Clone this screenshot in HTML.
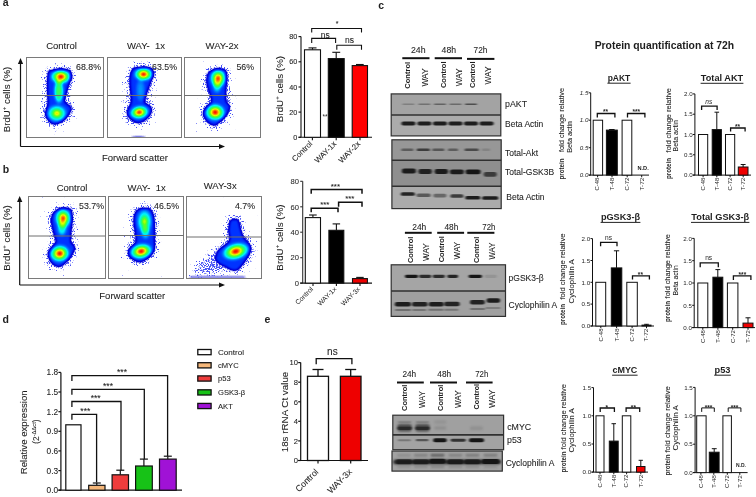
<!DOCTYPE html><html><head><meta charset="utf-8"><title>Figure</title><style>html,body{margin:0;padding:0;background:#fff;overflow:hidden}svg{display:block;filter:blur(0.35px)}text{font-family:"Liberation Sans",sans-serif;fill:#1e1e1e}</style></head><body>
<svg width="756" height="497" viewBox="0 0 756 497">
<defs>
<filter id="jet" x="-20%" y="-20%" width="140%" height="140%" color-interpolation-filters="sRGB">
<feGaussianBlur in="SourceGraphic" stdDeviation="1.0" result="b"/>
<feColorMatrix in="b" type="matrix" values="0 0 0 1 0 0 0 0 1 0 0 0 0 1 0 0 0 0 14 0" result="g"/>
<feComponentTransfer in="g"><feFuncR type="table" tableValues="0.000 0.000 0.000 0.000 0.000 0.000 0.000 0.000 0.000 0.000 0.000 0.000 0.000 0.000 0.000 0.000 0.000 0.000 0.000 0.000 0.000 0.000 0.000 0.000 0.000 0.000 0.000 0.000 0.000 0.000 0.000 0.000 0.000 0.000 0.000 0.000 0.000 0.000 0.000 0.000 0.000 0.000 0.000 0.000 0.000 0.000 0.000 0.000 0.000 0.000 0.000 0.010 0.020 0.030 0.040 0.050 0.060 0.070 0.080 0.090 0.100 0.138 0.175 0.213 0.250 0.288 0.325 0.363 0.400 0.462 0.525 0.587 0.650 0.712 0.775 0.837 0.900 0.913 0.925 0.938 0.950 0.963 0.975 0.987 1.000 1.000 1.000 1.000 1.000 1.000 1.000 1.000 1.000 0.975 0.950 0.925 0.900 0.875 0.850 0.825 0.800"/><feFuncG type="table" tableValues="0.000 0.000 0.000 0.000 0.000 0.000 0.000 0.000 0.000 0.000 0.000 0.013 0.027 0.040 0.053 0.067 0.080 0.093 0.107 0.120 0.133 0.147 0.160 0.173 0.187 0.200 0.223 0.246 0.269 0.292 0.315 0.338 0.362 0.385 0.408 0.431 0.454 0.477 0.500 0.538 0.575 0.612 0.650 0.688 0.725 0.762 0.800 0.837 0.875 0.912 0.950 0.955 0.960 0.965 0.970 0.975 0.980 0.985 0.990 0.995 1.000 1.000 1.000 1.000 1.000 1.000 1.000 1.000 1.000 1.000 1.000 1.000 1.000 1.000 1.000 1.000 1.000 0.944 0.887 0.831 0.775 0.719 0.663 0.606 0.550 0.494 0.438 0.381 0.325 0.269 0.213 0.156 0.100 0.087 0.075 0.063 0.050 0.038 0.025 0.013 0.000"/><feFuncB type="table" tableValues="0.800 0.805 0.810 0.815 0.820 0.825 0.830 0.835 0.840 0.845 0.850 0.860 0.870 0.880 0.890 0.900 0.910 0.920 0.930 0.940 0.950 0.960 0.970 0.980 0.990 1.000 1.000 1.000 1.000 1.000 1.000 1.000 1.000 1.000 1.000 1.000 1.000 1.000 1.000 1.000 1.000 1.000 1.000 1.000 1.000 1.000 1.000 1.000 1.000 1.000 1.000 0.950 0.900 0.850 0.800 0.750 0.700 0.650 0.600 0.550 0.500 0.450 0.400 0.350 0.300 0.250 0.200 0.150 0.100 0.088 0.075 0.063 0.050 0.038 0.025 0.013 0.000 0.000 0.000 0.000 0.000 0.000 0.000 0.000 0.000 0.000 0.000 0.000 0.000 0.000 0.000 0.000 0.000 0.000 0.000 0.000 0.000 0.000 0.000 0.000 0.000"/></feComponentTransfer>
</filter>
<filter id="spk" x="-30%" y="-30%" width="160%" height="160%" color-interpolation-filters="sRGB">
<feGaussianBlur in="SourceGraphic" stdDeviation="3.6" result="s"/>
<feTurbulence type="fractalNoise" baseFrequency="0.85" numOctaves="2" seed="7" result="n"/>
<feComposite in="n" in2="s" operator="arithmetic" k1="0" k2="10" k3="4.2" k4="-8.2" result="a"/>
<feColorMatrix in="a" type="matrix" values="0 0 0 0 0.1  0 0 0 0 0.15  0 0 0 0 0.95  0 0 0 0.8 0"/>
</filter>
<filter id="bb" x="-30%" y="-100%" width="160%" height="300%" color-interpolation-filters="sRGB"><feGaussianBlur stdDeviation="0.8 0.6"/></filter>
<filter id="bb2" x="-30%" y="-100%" width="160%" height="300%" color-interpolation-filters="sRGB"><feGaussianBlur stdDeviation="1.2 0.9"/></filter>
<radialGradient id="core"><stop offset="0" stop-color="#fff" stop-opacity="1"/><stop offset="0.15" stop-color="#fff" stop-opacity="0.9"/><stop offset="0.3" stop-color="#fff" stop-opacity="0.74"/><stop offset="0.5" stop-color="#fff" stop-opacity="0.55"/><stop offset="0.75" stop-color="#fff" stop-opacity="0.33"/><stop offset="0.9" stop-color="#fff" stop-opacity="0.13"/><stop offset="1" stop-color="#fff" stop-opacity="0"/></radialGradient><radialGradient id="trail"><stop offset="0" stop-color="#fff" stop-opacity="1"/><stop offset="0.5" stop-color="#fff" stop-opacity="0.85"/><stop offset="0.8" stop-color="#fff" stop-opacity="0.45"/><stop offset="1" stop-color="#fff" stop-opacity="0"/></radialGradient>
</defs>
<rect width="756" height="497" fill="#fff"/>
<text x="2.8" y="5.8" font-size="10.5" font-weight="bold">a</text>
<text x="2.8" y="172.9" font-size="10.5" font-weight="bold">b</text>
<text x="378.3" y="9.4" font-size="10.5" font-weight="bold">c</text>
<text x="2.5" y="322.9" font-size="10.5" font-weight="bold">d</text>
<text x="264.5" y="322.9" font-size="10.5" font-weight="bold">e</text>
<svg x="26.5" y="57.5" width="77.0" height="80.0" viewBox="26.5 57.5 77.0 80.0" overflow="hidden">
<g filter="url(#spk)"><path d="M50.5,71.0 C52.4,70.5 56.9,70.3 60.0,70.3 C63.1,70.3 67.3,70.5 69.0,71.0 C70.7,71.5 69.9,72.3 70.0,73.5 C70.1,74.7 70.2,75.9 69.8,78.0 C69.4,80.1 68.5,83.3 67.8,86.0 C67.1,88.7 66.0,91.6 65.4,94.2 C64.8,96.8 63.5,99.6 64.0,101.5 C64.5,103.4 67.1,104.3 68.2,105.5 C69.3,106.7 70.9,107.1 70.8,108.7 C70.7,110.3 68.9,113.0 67.4,115.0 C65.9,117.0 63.6,119.4 61.7,120.8 C59.8,122.2 57.8,123.1 56.1,123.4 C54.4,123.7 52.9,123.6 51.3,122.4 C49.7,121.2 47.4,117.9 46.6,116.0 C45.8,114.1 46.3,113.0 46.6,111.0 C46.9,109.0 48.1,106.5 48.4,104.0 C48.7,101.5 48.4,98.8 48.3,95.8 C48.2,92.8 48.0,89.0 48.0,86.0 C48.0,83.0 48.1,80.1 48.2,78.0 C48.4,75.9 48.5,74.5 48.9,73.3 C49.3,72.1 48.6,71.5 50.5,71.0 Z" fill="#fff" stroke="#fff" stroke-width="10" stroke-linejoin="round" opacity="1.0"/></g>
<g filter="url(#jet)"><path d="M50.5,71.0 C52.4,70.5 56.9,70.3 60.0,70.3 C63.1,70.3 67.3,70.5 69.0,71.0 C70.7,71.5 69.9,72.3 70.0,73.5 C70.1,74.7 70.2,75.9 69.8,78.0 C69.4,80.1 68.5,83.3 67.8,86.0 C67.1,88.7 66.0,91.6 65.4,94.2 C64.8,96.8 63.5,99.6 64.0,101.5 C64.5,103.4 67.1,104.3 68.2,105.5 C69.3,106.7 70.9,107.1 70.8,108.7 C70.7,110.3 68.9,113.0 67.4,115.0 C65.9,117.0 63.6,119.4 61.7,120.8 C59.8,122.2 57.8,123.1 56.1,123.4 C54.4,123.7 52.9,123.6 51.3,122.4 C49.7,121.2 47.4,117.9 46.6,116.0 C45.8,114.1 46.3,113.0 46.6,111.0 C46.9,109.0 48.1,106.5 48.4,104.0 C48.7,101.5 48.4,98.8 48.3,95.8 C48.2,92.8 48.0,89.0 48.0,86.0 C48.0,83.0 48.1,80.1 48.2,78.0 C48.4,75.9 48.5,74.5 48.9,73.3 C49.3,72.1 48.6,71.5 50.5,71.0 Z" fill="#fff" fill-opacity="0.25"/><ellipse cx="58.8" cy="91" rx="5.5" ry="14" fill="url(#trail)" fill-opacity="0.55"/><ellipse cx="60.9" cy="76.7" rx="11.5" ry="8.2" fill="url(#core)" fill-opacity="1.0"/><ellipse cx="56.9" cy="113.4" rx="11" ry="9.5" fill="url(#core)" fill-opacity="0.78"/></g>
</svg>
<rect x="26.5" y="57.5" width="77.0" height="80.0" fill="none" stroke="#7a7a7a" stroke-width="1"/>
<line x1="26.5" y1="95.5" x2="103.5" y2="95.5" stroke="#6e6e6e" stroke-width="1"/>
<text x="101.0" y="70.0" font-size="8.8" text-anchor="end" fill="#222" stroke="#222" stroke-width="0.08">68.8%</text>
<svg x="107.5" y="57.5" width="74.0" height="80.0" viewBox="107.5 57.5 74.0 80.0" overflow="hidden">
<g filter="url(#spk)"><path d="M134.9,68.5 C136.8,67.8 140.4,68.0 143.0,68.0 C145.6,68.0 148.6,67.8 150.2,68.5 C151.8,69.2 152.2,70.1 152.3,72.0 C152.4,73.9 151.8,77.3 151.0,80.0 C150.2,82.7 148.8,85.5 147.8,88.2 C146.9,90.9 145.9,93.8 145.3,96.2 C144.7,98.6 143.5,101.0 144.0,102.5 C144.5,104.0 147.0,104.5 148.2,105.5 C149.4,106.5 150.7,107.2 151.0,108.7 C151.3,110.2 151.0,112.4 149.8,114.3 C148.7,116.2 146.1,118.7 144.1,120.0 C142.1,121.3 140.0,122.5 137.7,122.2 C135.4,121.9 132.2,119.9 130.5,118.3 C128.8,116.7 127.9,114.3 127.6,112.7 C127.3,111.1 128.2,110.3 128.9,108.7 C129.6,107.1 131.1,105.1 131.6,103.0 C132.1,100.9 131.8,98.7 131.7,96.2 C131.6,93.7 131.1,90.9 130.9,88.2 C130.7,85.5 130.4,82.7 130.5,80.0 C130.6,77.3 131.0,73.9 131.7,72.0 C132.4,70.1 133.0,69.2 134.9,68.5 Z" fill="#fff" stroke="#fff" stroke-width="10" stroke-linejoin="round" opacity="1.0"/></g>
<g filter="url(#jet)"><path d="M134.9,68.5 C136.8,67.8 140.4,68.0 143.0,68.0 C145.6,68.0 148.6,67.8 150.2,68.5 C151.8,69.2 152.2,70.1 152.3,72.0 C152.4,73.9 151.8,77.3 151.0,80.0 C150.2,82.7 148.8,85.5 147.8,88.2 C146.9,90.9 145.9,93.8 145.3,96.2 C144.7,98.6 143.5,101.0 144.0,102.5 C144.5,104.0 147.0,104.5 148.2,105.5 C149.4,106.5 150.7,107.2 151.0,108.7 C151.3,110.2 151.0,112.4 149.8,114.3 C148.7,116.2 146.1,118.7 144.1,120.0 C142.1,121.3 140.0,122.5 137.7,122.2 C135.4,121.9 132.2,119.9 130.5,118.3 C128.8,116.7 127.9,114.3 127.6,112.7 C127.3,111.1 128.2,110.3 128.9,108.7 C129.6,107.1 131.1,105.1 131.6,103.0 C132.1,100.9 131.8,98.7 131.7,96.2 C131.6,93.7 131.1,90.9 130.9,88.2 C130.7,85.5 130.4,82.7 130.5,80.0 C130.6,77.3 131.0,73.9 131.7,72.0 C132.4,70.1 133.0,69.2 134.9,68.5 Z" fill="#fff" fill-opacity="0.25"/><ellipse cx="140.5" cy="90" rx="5" ry="13" fill="url(#trail)" fill-opacity="0.22"/><ellipse cx="143.6" cy="74.3" rx="10.5" ry="7.5" fill="url(#core)" fill-opacity="1.0"/><ellipse cx="139.3" cy="112.3" rx="10.5" ry="7.5" fill="url(#core)" fill-opacity="0.98" transform="rotate(-10 139.3 112.3)"/><ellipse cx="138.5" cy="137.6" rx="7" ry="0.9" fill="#fff" fill-opacity="0.1"/></g>
</svg>
<rect x="107.5" y="57.5" width="74.0" height="80.0" fill="none" stroke="#7a7a7a" stroke-width="1"/>
<line x1="107.5" y1="95.5" x2="181.5" y2="95.5" stroke="#6e6e6e" stroke-width="1"/>
<text x="177.0" y="70.0" font-size="8.8" text-anchor="end" fill="#222" stroke="#222" stroke-width="0.08">63.5%</text>
<svg x="184.5" y="57.5" width="76.0" height="80.0" viewBox="184.5 57.5 76.0 80.0" overflow="hidden">
<g filter="url(#spk)"><path d="M213.3,70.5 C215.1,69.8 217.1,70.0 219.0,70.0 C220.9,70.0 223.5,70.1 224.6,70.5 C225.7,70.9 225.6,70.6 225.8,72.5 C226.0,74.4 225.9,79.1 225.8,82.1 C225.7,85.0 225.5,87.7 225.4,90.2 C225.3,92.7 224.9,95.0 225.0,97.0 C225.1,99.0 225.3,100.9 225.8,102.2 C226.3,103.5 227.7,103.8 228.2,104.7 C228.7,105.7 229.4,106.2 229.0,107.9 C228.6,109.6 227.4,112.8 225.8,115.1 C224.2,117.4 221.2,120.0 219.3,121.6 C217.4,123.2 216.4,124.8 214.5,124.8 C212.6,124.8 209.8,123.2 208.1,121.6 C206.3,120.0 204.6,116.8 204.0,115.1 C203.4,113.3 203.8,112.6 204.5,111.1 C205.2,109.6 206.8,107.8 208.1,106.3 C209.3,104.8 211.5,103.8 212.0,102.0 C212.5,100.2 211.8,97.8 211.3,95.8 C210.9,93.8 210.0,92.5 209.3,90.2 C208.6,87.9 207.4,84.8 207.3,82.1 C207.2,79.4 207.5,75.9 208.5,74.0 C209.5,72.1 211.6,71.2 213.3,70.5 Z" fill="#fff" stroke="#fff" stroke-width="10" stroke-linejoin="round" opacity="1.0"/></g>
<g filter="url(#jet)"><path d="M213.3,70.5 C215.1,69.8 217.1,70.0 219.0,70.0 C220.9,70.0 223.5,70.1 224.6,70.5 C225.7,70.9 225.6,70.6 225.8,72.5 C226.0,74.4 225.9,79.1 225.8,82.1 C225.7,85.0 225.5,87.7 225.4,90.2 C225.3,92.7 224.9,95.0 225.0,97.0 C225.1,99.0 225.3,100.9 225.8,102.2 C226.3,103.5 227.7,103.8 228.2,104.7 C228.7,105.7 229.4,106.2 229.0,107.9 C228.6,109.6 227.4,112.8 225.8,115.1 C224.2,117.4 221.2,120.0 219.3,121.6 C217.4,123.2 216.4,124.8 214.5,124.8 C212.6,124.8 209.8,123.2 208.1,121.6 C206.3,120.0 204.6,116.8 204.0,115.1 C203.4,113.3 203.8,112.6 204.5,111.1 C205.2,109.6 206.8,107.8 208.1,106.3 C209.3,104.8 211.5,103.8 212.0,102.0 C212.5,100.2 211.8,97.8 211.3,95.8 C210.9,93.8 210.0,92.5 209.3,90.2 C208.6,87.9 207.4,84.8 207.3,82.1 C207.2,79.4 207.5,75.9 208.5,74.0 C209.5,72.1 211.6,71.2 213.3,70.5 Z" fill="#fff" fill-opacity="0.25"/><ellipse cx="217" cy="86" rx="5" ry="8" fill="url(#trail)" fill-opacity="0.35"/><ellipse cx="218.1" cy="78.4" rx="9" ry="10.5" fill="url(#core)" fill-opacity="0.95"/><ellipse cx="215.2" cy="112.3" rx="11" ry="9.5" fill="url(#core)" fill-opacity="1.0"/></g>
</svg>
<rect x="184.5" y="57.5" width="76.0" height="80.0" fill="none" stroke="#7a7a7a" stroke-width="1"/>
<line x1="184.5" y1="95.5" x2="260.5" y2="95.5" stroke="#6e6e6e" stroke-width="1"/>
<text x="254.0" y="70.0" font-size="8.8" text-anchor="end" fill="#222" stroke="#222" stroke-width="0.08">56%</text>
<svg x="28.5" y="196.5" width="77.0" height="82.0" viewBox="28.5 196.5 77.0 82.0" overflow="hidden">
<g filter="url(#spk)"><path d="M59.7,209.6 C61.7,208.8 63.2,209.2 65.0,209.2 C66.8,209.2 69.2,209.1 70.2,209.6 C71.2,210.1 71.0,209.9 71.2,212.0 C71.4,214.1 71.5,219.1 71.4,222.1 C71.3,225.1 70.8,227.5 70.6,230.2 C70.4,232.8 70.0,235.9 70.0,238.0 C70.0,240.1 70.1,241.8 70.6,243.0 C71.1,244.2 72.4,244.6 73.0,245.5 C73.6,246.4 74.6,247.0 74.2,248.7 C73.8,250.4 72.3,253.5 70.6,255.9 C68.9,258.3 66.1,261.5 64.1,263.2 C62.1,264.9 60.5,266.1 58.5,266.0 C56.5,265.9 53.7,264.1 52.1,262.4 C50.5,260.7 49.4,257.6 48.9,255.9 C48.4,254.2 48.6,253.4 49.3,251.9 C50.0,250.4 51.7,248.8 52.9,247.1 C54.1,245.4 56.1,243.9 56.5,242.0 C56.9,240.1 55.8,237.8 55.3,235.8 C54.8,233.8 54.2,232.5 53.7,230.2 C53.2,227.9 52.2,224.8 52.1,222.1 C52.0,219.4 52.0,216.1 53.3,214.0 C54.6,211.9 57.8,210.4 59.7,209.6 Z" fill="#fff" stroke="#fff" stroke-width="10" stroke-linejoin="round" opacity="1.0"/></g>
<g filter="url(#jet)"><path d="M59.7,209.6 C61.7,208.8 63.2,209.2 65.0,209.2 C66.8,209.2 69.2,209.1 70.2,209.6 C71.2,210.1 71.0,209.9 71.2,212.0 C71.4,214.1 71.5,219.1 71.4,222.1 C71.3,225.1 70.8,227.5 70.6,230.2 C70.4,232.8 70.0,235.9 70.0,238.0 C70.0,240.1 70.1,241.8 70.6,243.0 C71.1,244.2 72.4,244.6 73.0,245.5 C73.6,246.4 74.6,247.0 74.2,248.7 C73.8,250.4 72.3,253.5 70.6,255.9 C68.9,258.3 66.1,261.5 64.1,263.2 C62.1,264.9 60.5,266.1 58.5,266.0 C56.5,265.9 53.7,264.1 52.1,262.4 C50.5,260.7 49.4,257.6 48.9,255.9 C48.4,254.2 48.6,253.4 49.3,251.9 C50.0,250.4 51.7,248.8 52.9,247.1 C54.1,245.4 56.1,243.9 56.5,242.0 C56.9,240.1 55.8,237.8 55.3,235.8 C54.8,233.8 54.2,232.5 53.7,230.2 C53.2,227.9 52.2,224.8 52.1,222.1 C52.0,219.4 52.0,216.1 53.3,214.0 C54.6,211.9 57.8,210.4 59.7,209.6 Z" fill="#fff" fill-opacity="0.25"/><ellipse cx="62" cy="228" rx="5.5" ry="9" fill="url(#trail)" fill-opacity="0.4"/><ellipse cx="63.1" cy="218.3" rx="9" ry="11" fill="url(#core)" fill-opacity="0.95"/><ellipse cx="59.7" cy="253.5" rx="11" ry="9.5" fill="url(#core)" fill-opacity="1.0" transform="rotate(-10 59.7 253.5)"/></g>
</svg>
<rect x="28.5" y="196.5" width="77.0" height="82.0" fill="none" stroke="#7a7a7a" stroke-width="1"/>
<line x1="28.5" y1="236.0" x2="105.5" y2="236.0" stroke="#6e6e6e" stroke-width="1"/>
<text x="104.0" y="208.5" font-size="8.8" text-anchor="end" fill="#222" stroke="#222" stroke-width="0.08">53.7%</text>
<svg x="108.5" y="196.5" width="75.0" height="82.0" viewBox="108.5 196.5 75.0 82.0" overflow="hidden">
<g filter="url(#spk)"><path d="M140.1,209.2 C141.6,208.6 143.5,208.9 145.0,208.9 C146.5,208.9 147.9,208.7 149.0,209.2 C150.1,209.7 150.7,210.2 151.4,211.7 C152.1,213.2 153.0,215.7 153.4,218.1 C153.8,220.5 153.7,223.4 153.8,226.1 C153.9,228.8 153.8,231.5 153.8,234.2 C153.8,236.8 153.8,239.8 153.9,242.0 C154.0,244.2 154.5,245.5 154.2,247.3 C153.8,249.1 153.2,251.0 151.8,252.9 C150.5,254.8 148.1,257.2 146.1,258.6 C144.1,260.0 142.1,261.5 139.7,261.4 C137.3,261.3 133.5,259.2 131.7,257.8 C129.9,256.4 129.1,254.4 128.8,252.9 C128.5,251.4 129.2,250.1 130.0,248.9 C130.8,247.7 132.2,246.9 133.3,245.7 C134.4,244.5 136.0,243.6 136.5,241.7 C137.0,239.8 136.4,236.8 136.1,234.2 C135.8,231.6 135.2,228.8 134.9,226.1 C134.6,223.4 134.3,220.4 134.5,218.1 C134.7,215.8 135.2,214.0 136.1,212.5 C137.0,211.0 138.6,209.8 140.1,209.2 Z" fill="#fff" stroke="#fff" stroke-width="10" stroke-linejoin="round" opacity="1.0"/></g>
<g filter="url(#jet)"><path d="M140.1,209.2 C141.6,208.6 143.5,208.9 145.0,208.9 C146.5,208.9 147.9,208.7 149.0,209.2 C150.1,209.7 150.7,210.2 151.4,211.7 C152.1,213.2 153.0,215.7 153.4,218.1 C153.8,220.5 153.7,223.4 153.8,226.1 C153.9,228.8 153.8,231.5 153.8,234.2 C153.8,236.8 153.8,239.8 153.9,242.0 C154.0,244.2 154.5,245.5 154.2,247.3 C153.8,249.1 153.2,251.0 151.8,252.9 C150.5,254.8 148.1,257.2 146.1,258.6 C144.1,260.0 142.1,261.5 139.7,261.4 C137.3,261.3 133.5,259.2 131.7,257.8 C129.9,256.4 129.1,254.4 128.8,252.9 C128.5,251.4 129.2,250.1 130.0,248.9 C130.8,247.7 132.2,246.9 133.3,245.7 C134.4,244.5 136.0,243.6 136.5,241.7 C137.0,239.8 136.4,236.8 136.1,234.2 C135.8,231.6 135.2,228.8 134.9,226.1 C134.6,223.4 134.3,220.4 134.5,218.1 C134.7,215.8 135.2,214.0 136.1,212.5 C137.0,211.0 138.6,209.8 140.1,209.2 Z" fill="#fff" fill-opacity="0.25"/><ellipse cx="145.5" cy="232" rx="5" ry="8" fill="url(#trail)" fill-opacity="0.35"/><ellipse cx="144.5" cy="221.5" rx="8.5" ry="13.5" fill="url(#core)" fill-opacity="0.7"/><ellipse cx="141.2" cy="251.3" rx="12.5" ry="8.5" fill="url(#core)" fill-opacity="1.0" transform="rotate(-12 141.2 251.3)"/></g>
</svg>
<rect x="108.5" y="196.5" width="75.0" height="82.0" fill="none" stroke="#7a7a7a" stroke-width="1"/>
<line x1="108.5" y1="235.5" x2="183.5" y2="235.5" stroke="#6e6e6e" stroke-width="1"/>
<text x="179.0" y="208.5" font-size="8.8" text-anchor="end" fill="#222" stroke="#222" stroke-width="0.08">46.5%</text>
<svg x="186.5" y="196.5" width="75.0" height="82.0" viewBox="186.5 196.5 75.0 82.0" overflow="hidden">
<g filter="url(#spk)"><path d="M231.2,220.5 C232.0,219.7 233.4,220.0 234.5,220.0 C235.6,220.0 236.7,218.8 237.7,220.5 C238.7,222.2 239.5,227.7 240.3,230.3 C241.1,232.9 241.5,234.6 242.3,236.2 C243.1,237.8 243.9,238.9 244.9,240.1 C245.9,241.3 247.3,242.2 248.2,243.4 C249.1,244.6 250.0,245.6 250.1,247.3 C250.2,249.1 250.0,251.3 248.8,253.9 C247.6,256.5 244.8,260.5 242.9,263.0 C241.1,265.5 239.4,267.8 237.7,268.9 C236.0,270.0 234.2,269.9 232.5,269.6 C230.8,269.3 229.4,268.0 227.2,266.9 C225.0,265.8 221.2,264.3 219.4,263.0 C217.6,261.7 216.5,260.4 216.1,259.1 C215.7,257.8 216.2,256.7 216.8,255.2 C217.4,253.7 217.6,251.9 219.4,249.9 C221.2,247.9 226.1,245.4 227.9,243.4 C229.8,241.4 230.3,240.2 230.5,238.2 C230.7,236.2 229.3,233.8 229.2,231.6 C229.1,229.4 229.6,226.9 229.9,225.1 C230.2,223.2 230.4,221.3 231.2,220.5 Z" fill="#fff" stroke="#fff" stroke-width="10" stroke-linejoin="round" opacity="1.0"/><ellipse cx="214" cy="264" rx="30" ry="15" fill="url(#trail)" opacity="1" transform="rotate(-22 214 264)"/><ellipse cx="236" cy="222" rx="10" ry="9" fill="url(#trail)" opacity="0.5"/></g>
<g filter="url(#jet)"><path d="M231.2,220.5 C232.0,219.7 233.4,220.0 234.5,220.0 C235.6,220.0 236.7,218.8 237.7,220.5 C238.7,222.2 239.5,227.7 240.3,230.3 C241.1,232.9 241.5,234.6 242.3,236.2 C243.1,237.8 243.9,238.9 244.9,240.1 C245.9,241.3 247.3,242.2 248.2,243.4 C249.1,244.6 250.0,245.6 250.1,247.3 C250.2,249.1 250.0,251.3 248.8,253.9 C247.6,256.5 244.8,260.5 242.9,263.0 C241.1,265.5 239.4,267.8 237.7,268.9 C236.0,270.0 234.2,269.9 232.5,269.6 C230.8,269.3 229.4,268.0 227.2,266.9 C225.0,265.8 221.2,264.3 219.4,263.0 C217.6,261.7 216.5,260.4 216.1,259.1 C215.7,257.8 216.2,256.7 216.8,255.2 C217.4,253.7 217.6,251.9 219.4,249.9 C221.2,247.9 226.1,245.4 227.9,243.4 C229.8,241.4 230.3,240.2 230.5,238.2 C230.7,236.2 229.3,233.8 229.2,231.6 C229.1,229.4 229.6,226.9 229.9,225.1 C230.2,223.2 230.4,221.3 231.2,220.5 Z" fill="#fff" fill-opacity="0.25"/><rect x="190" y="276.9" width="55" height="0.8" fill="#fff" fill-opacity="0.13"/><ellipse cx="235.7" cy="251.4" rx="15" ry="9.2" fill="url(#core)" fill-opacity="1.0" transform="rotate(-15 235.7 251.4)"/></g>
</svg>
<rect x="186.5" y="196.5" width="75.0" height="82.0" fill="none" stroke="#7a7a7a" stroke-width="1"/>
<line x1="186.5" y1="237.0" x2="261.5" y2="237.0" stroke="#6e6e6e" stroke-width="1"/>
<text x="255.0" y="208.5" font-size="8.8" text-anchor="end" fill="#222" stroke="#222" stroke-width="0.08">4.7%</text>
<line x1="20.5" y1="63.0" x2="20.5" y2="146.5" stroke="#111" stroke-width="1.2"/>
<path d="M17.9,64 L20.5,58 L23.1,64 Z" fill="#111" stroke="none" stroke-width="1"/>
<line x1="20.5" y1="146.5" x2="220.0" y2="146.5" stroke="#111" stroke-width="1.2"/>
<path d="M219,143.9 L225,146.5 L219,149.1 Z" fill="#111" stroke="none" stroke-width="1"/>
<text x="61.5" y="48.5" font-size="9.5" text-anchor="middle" stroke="#1e1e1e" stroke-width="0.08">Control</text>
<text x="146.0" y="48.5" font-size="9.5" text-anchor="middle" stroke="#1e1e1e" stroke-width="0.08">WAY-&#160;&#160;1x</text>
<text x="222.0" y="48.5" font-size="9.5" text-anchor="middle" stroke="#1e1e1e" stroke-width="0.08">WAY-2x</text>
<text x="10.0" y="99.5" font-size="9.7" text-anchor="middle" stroke="#1e1e1e" stroke-width="0.08" transform="rotate(-90 10.0 99.5)">BrdU<tspan font-size="6.2" dy="-3.6">+</tspan><tspan dy="3.6"> cells (%)</tspan></text>
<text x="101.9" y="160.6" font-size="9.5" textLength="66" lengthAdjust="spacingAndGlyphs" stroke="#1e1e1e" stroke-width="0.08">Forward scatter</text>
<line x1="19.7" y1="201.0" x2="19.7" y2="285.0" stroke="#111" stroke-width="1.2"/>
<path d="M17.099999999999998,202 L19.7,196 L22.3,202 Z" fill="#111" stroke="none" stroke-width="1"/>
<line x1="19.7" y1="285.0" x2="220.0" y2="285.0" stroke="#111" stroke-width="1.2"/>
<path d="M219,282.4 L225,285 L219,287.6 Z" fill="#111" stroke="none" stroke-width="1"/>
<text x="72.0" y="190.5" font-size="9.5" text-anchor="middle" stroke="#1e1e1e" stroke-width="0.08">Control</text>
<text x="146.7" y="190.5" font-size="9.5" text-anchor="middle" stroke="#1e1e1e" stroke-width="0.08">WAY-&#160;&#160;1x</text>
<text x="220.2" y="188.5" font-size="9.5" text-anchor="middle" stroke="#1e1e1e" stroke-width="0.08">WAY-3x</text>
<text x="10.0" y="238.0" font-size="9.7" text-anchor="middle" stroke="#1e1e1e" stroke-width="0.08" transform="rotate(-90 10.0 238.0)">BrdU<tspan font-size="6.2" dy="-3.6">+</tspan><tspan dy="3.6"> cells (%)</tspan></text>
<text x="99.3" y="298.5" font-size="9.5" textLength="66" lengthAdjust="spacingAndGlyphs" stroke="#1e1e1e" stroke-width="0.08">Forward scatter</text>
<line x1="301.0" y1="36.6" x2="301.0" y2="137.3" stroke="#111" stroke-width="1.1"/>
<line x1="298.5" y1="137.3" x2="301.0" y2="137.3" stroke="#111" stroke-width="1.1"/>
<text x="297.2" y="139.9" font-size="7.2" text-anchor="end" stroke="#1e1e1e" stroke-width="0.08">0</text>
<line x1="298.5" y1="112.1" x2="301.0" y2="112.1" stroke="#111" stroke-width="1.1"/>
<text x="297.2" y="114.7" font-size="7.2" text-anchor="end" stroke="#1e1e1e" stroke-width="0.08">20</text>
<line x1="298.5" y1="87.0" x2="301.0" y2="87.0" stroke="#111" stroke-width="1.1"/>
<text x="297.2" y="89.5" font-size="7.2" text-anchor="end" stroke="#1e1e1e" stroke-width="0.08">40</text>
<line x1="298.5" y1="61.8" x2="301.0" y2="61.8" stroke="#111" stroke-width="1.1"/>
<text x="297.2" y="64.4" font-size="7.2" text-anchor="end" stroke="#1e1e1e" stroke-width="0.08">60</text>
<line x1="298.5" y1="36.6" x2="301.0" y2="36.6" stroke="#111" stroke-width="1.1"/>
<text x="297.2" y="39.2" font-size="7.2" text-anchor="end" stroke="#1e1e1e" stroke-width="0.08">80</text>
<line x1="298.5" y1="137.3" x2="372.0" y2="137.3" stroke="#111" stroke-width="1.1"/>
<line x1="312.4" y1="137.3" x2="312.4" y2="140.3" stroke="#111" stroke-width="1.1"/>
<line x1="336.2" y1="137.3" x2="336.2" y2="140.3" stroke="#111" stroke-width="1.1"/>
<line x1="360.0" y1="137.3" x2="360.0" y2="140.3" stroke="#111" stroke-width="1.1"/>
<line x1="312.5" y1="49.8" x2="312.5" y2="47.9" stroke="#111" stroke-width="1.1"/>
<line x1="308.5" y1="47.9" x2="316.5" y2="47.9" stroke="#111" stroke-width="1.1"/>
<rect x="304.5" y="49.8" width="16.0" height="87.5" fill="#fff" stroke="#111" stroke-width="1.1"/>
<line x1="336.2" y1="58.6" x2="336.2" y2="52.3" stroke="#111" stroke-width="1.1"/>
<line x1="332.3" y1="52.3" x2="340.2" y2="52.3" stroke="#111" stroke-width="1.1"/>
<rect x="328.3" y="58.6" width="15.9" height="78.7" fill="#000" stroke="#111" stroke-width="1.1"/>
<line x1="359.9" y1="65.6" x2="359.9" y2="64.5" stroke="#111" stroke-width="1.1"/>
<line x1="356.0" y1="64.5" x2="363.7" y2="64.5" stroke="#111" stroke-width="1.1"/>
<rect x="352.2" y="65.6" width="15.3" height="71.7" fill="#f00" stroke="#111" stroke-width="1.1"/>
<path d="M311.7,32.5 L311.7,28.5 L361.5,28.5 L361.5,32.5" fill="none" stroke="#111" stroke-width="1.1"/>
<path d="M311.7,42.9 L311.7,38.4 L335.6,38.4 L335.6,42.9" fill="none" stroke="#111" stroke-width="1.1"/>
<path d="M336.8,49.7 L336.8,45.2 L361.5,45.2 L361.5,49.7" fill="none" stroke="#111" stroke-width="1.1"/>
<text x="337.0" y="25.5" font-size="7" text-anchor="middle" stroke="#1e1e1e" stroke-width="0.08">*</text>
<text x="325.3" y="38.0" font-size="8.5" text-anchor="middle" stroke="#1e1e1e" stroke-width="0.08">ns</text>
<text x="349.5" y="43.2" font-size="8.5" text-anchor="middle" stroke="#1e1e1e" stroke-width="0.08">ns</text>
<text x="282.5" y="89.0" font-size="9.8" text-anchor="middle" stroke="#1e1e1e" stroke-width="0.08" transform="rotate(-90 282.5 89.0)">BrdU<tspan font-size="6.2" dy="-3.7">+</tspan><tspan dy="3.7"> cells (%)</tspan></text>
<text x="312.8" y="144.3" font-size="7.8" text-anchor="end" stroke="#1e1e1e" stroke-width="0.08" transform="rotate(-45 312.8 144.3)">Control</text>
<text x="336.8" y="144.3" font-size="7.8" text-anchor="end" stroke="#1e1e1e" stroke-width="0.08" transform="rotate(-45 336.8 144.3)">WAY-1x</text>
<text x="360.8" y="144.3" font-size="7.8" text-anchor="end" stroke="#1e1e1e" stroke-width="0.08" transform="rotate(-45 360.8 144.3)">WAY-2x</text>
<text x="325.0" y="119.2" font-size="6.5" text-anchor="middle" fill="#777">**</text>
<line x1="302.7" y1="181.3" x2="302.7" y2="283.1" stroke="#333" stroke-width="1.1"/>
<line x1="300.2" y1="283.1" x2="302.7" y2="283.1" stroke="#333" stroke-width="1.1"/>
<text x="298.9" y="285.8" font-size="7.6" text-anchor="end" fill="#555" stroke="#555" stroke-width="0.08">0</text>
<line x1="300.2" y1="257.7" x2="302.7" y2="257.7" stroke="#333" stroke-width="1.1"/>
<text x="298.9" y="260.4" font-size="7.6" text-anchor="end" fill="#555" stroke="#555" stroke-width="0.08">20</text>
<line x1="300.2" y1="232.2" x2="302.7" y2="232.2" stroke="#333" stroke-width="1.1"/>
<text x="298.9" y="234.9" font-size="7.6" text-anchor="end" fill="#555" stroke="#555" stroke-width="0.08">40</text>
<line x1="300.2" y1="206.8" x2="302.7" y2="206.8" stroke="#333" stroke-width="1.1"/>
<text x="298.9" y="209.5" font-size="7.6" text-anchor="end" fill="#555" stroke="#555" stroke-width="0.08">60</text>
<line x1="300.2" y1="181.3" x2="302.7" y2="181.3" stroke="#333" stroke-width="1.1"/>
<text x="298.9" y="184.0" font-size="7.6" text-anchor="end" fill="#555" stroke="#555" stroke-width="0.08">80</text>
<line x1="300.2" y1="283.1" x2="372.0" y2="283.1" stroke="#111" stroke-width="1.1"/>
<line x1="313.0" y1="283.1" x2="313.0" y2="286.1" stroke="#111" stroke-width="1.1"/>
<line x1="336.4" y1="283.1" x2="336.4" y2="286.1" stroke="#111" stroke-width="1.1"/>
<line x1="360.0" y1="283.1" x2="360.0" y2="286.1" stroke="#111" stroke-width="1.1"/>
<line x1="312.9" y1="217.6" x2="312.9" y2="215.0" stroke="#111" stroke-width="1.1"/>
<line x1="309.1" y1="215.0" x2="316.7" y2="215.0" stroke="#111" stroke-width="1.1"/>
<rect x="305.3" y="217.6" width="15.2" height="65.5" fill="#fff" stroke="#111" stroke-width="1.1"/>
<line x1="336.4" y1="230.3" x2="336.4" y2="223.9" stroke="#111" stroke-width="1.1"/>
<line x1="332.6" y1="223.9" x2="340.1" y2="223.9" stroke="#111" stroke-width="1.1"/>
<rect x="328.9" y="230.3" width="14.9" height="52.8" fill="#000" stroke="#111" stroke-width="1.1"/>
<line x1="359.9" y1="278.6" x2="359.9" y2="277.4" stroke="#111" stroke-width="1.1"/>
<line x1="356.2" y1="277.4" x2="363.7" y2="277.4" stroke="#111" stroke-width="1.1"/>
<rect x="352.5" y="278.6" width="14.9" height="4.5" fill="#e00" stroke="#111" stroke-width="1.1"/>
<path d="M311.2,193.8 L311.2,189.6 L362.0,189.6 L362.0,193.8" fill="none" stroke="#111" stroke-width="1.5"/>
<path d="M338.6,206.7 L338.6,202.2 L362.0,202.2 L362.0,206.7" fill="none" stroke="#111" stroke-width="1.5"/>
<path d="M311.2,212.3 L311.2,208.3 L338.0,208.3 L338.0,212.3" fill="none" stroke="#111" stroke-width="1.5"/>
<text x="335.4" y="189.0" font-size="8" text-anchor="middle" stroke="#1e1e1e" stroke-width="0.08">***</text>
<text x="349.8" y="201.4" font-size="8" text-anchor="middle" stroke="#1e1e1e" stroke-width="0.08">***</text>
<text x="324.8" y="207.4" font-size="8" text-anchor="middle" stroke="#1e1e1e" stroke-width="0.08">***</text>
<text x="282.5" y="237.5" font-size="9.8" text-anchor="middle" stroke="#1e1e1e" stroke-width="0.08" transform="rotate(-90 282.5 237.5)">BrdU<tspan font-size="6.2" dy="-3.7">+</tspan><tspan dy="3.7"> cells (%)</tspan></text>
<text x="313.5" y="289.6" font-size="6.8" text-anchor="end" transform="rotate(-45 313.5 289.6)">Control</text>
<text x="336.9" y="289.6" font-size="6.8" text-anchor="end" transform="rotate(-45 336.9 289.6)">WAY-1x</text>
<text x="360.5" y="289.6" font-size="6.8" text-anchor="end" transform="rotate(-45 360.5 289.6)">WAY-3x</text>
<text x="411.0" y="53.0" font-size="8.8" textLength="14.6" lengthAdjust="spacingAndGlyphs" stroke="#1e1e1e" stroke-width="0.08">24h</text>
<text x="441.6" y="53.0" font-size="8.8" textLength="14.5" lengthAdjust="spacingAndGlyphs" stroke="#1e1e1e" stroke-width="0.08">48h</text>
<text x="473.6" y="53.0" font-size="8.8" textLength="13.8" lengthAdjust="spacingAndGlyphs" stroke="#1e1e1e" stroke-width="0.08">72h</text>
<line x1="402.3" y1="58.2" x2="429.5" y2="58.2" stroke="#111" stroke-width="2.0"/>
<line x1="434.7" y1="58.2" x2="462.0" y2="58.2" stroke="#111" stroke-width="2.0"/>
<line x1="467.0" y1="58.9" x2="494.4" y2="58.9" stroke="#111" stroke-width="2.0"/>
<text x="410.3" y="88.8" font-size="7.6" font-weight="bold" textLength="27.0" lengthAdjust="spacingAndGlyphs" transform="rotate(-90 410.3 88.8)">Control</text>
<text x="428.5" y="86.6" font-size="8.2" textLength="18.2" lengthAdjust="spacingAndGlyphs" stroke="#1e1e1e" stroke-width="0.08" transform="rotate(-90 428.5 86.6)">WAY</text>
<text x="445.7" y="88.0" font-size="7.6" font-weight="bold" textLength="26.5" lengthAdjust="spacingAndGlyphs" transform="rotate(-90 445.7 88.0)">Control</text>
<text x="462.0" y="86.3" font-size="8.2" textLength="17.9" lengthAdjust="spacingAndGlyphs" stroke="#1e1e1e" stroke-width="0.08" transform="rotate(-90 462.0 86.3)">WAY</text>
<text x="475.0" y="88.0" font-size="7.6" font-weight="bold" textLength="26.5" lengthAdjust="spacingAndGlyphs" transform="rotate(-90 475.0 88.0)">Control</text>
<text x="491.1" y="84.4" font-size="8.2" textLength="17.9" lengthAdjust="spacingAndGlyphs" stroke="#1e1e1e" stroke-width="0.08" transform="rotate(-90 491.1 84.4)">WAY</text>
<rect x="391.2" y="93.9" width="109.6" height="21.1" fill="#a3a3a3"/>
<rect x="391.2" y="115.0" width="109.6" height="20.9" fill="#ababab"/>
<rect x="402.4" y="103.5" width="12.0" height="1.5" rx="0.7" fill="#151515" fill-opacity="0.25" filter="url(#bb)"/>
<rect x="418.4" y="103.5" width="12.0" height="1.5" rx="0.7" fill="#151515" fill-opacity="0.35" filter="url(#bb)"/>
<rect x="434.0" y="103.5" width="12.0" height="1.5" rx="0.7" fill="#151515" fill-opacity="0.45" filter="url(#bb)"/>
<rect x="449.5" y="103.5" width="12.0" height="1.5" rx="0.7" fill="#151515" fill-opacity="0.4" filter="url(#bb)"/>
<rect x="465.0" y="103.5" width="12.0" height="1.5" rx="0.7" fill="#151515" fill-opacity="0.6" filter="url(#bb)"/>
<rect x="401.4" y="121.6" width="14.0" height="4.0" rx="1.8" fill="#151515" fill-opacity="0.95" filter="url(#bb)"/>
<rect x="417.4" y="121.6" width="14.0" height="4.0" rx="1.8" fill="#151515" fill-opacity="0.95" filter="url(#bb)"/>
<rect x="433.0" y="121.6" width="14.0" height="4.0" rx="1.8" fill="#151515" fill-opacity="0.95" filter="url(#bb)"/>
<rect x="448.5" y="121.6" width="14.0" height="4.0" rx="1.8" fill="#151515" fill-opacity="0.95" filter="url(#bb)"/>
<rect x="464.0" y="121.6" width="14.0" height="4.0" rx="1.8" fill="#151515" fill-opacity="0.95" filter="url(#bb)"/>
<rect x="479.6" y="121.6" width="14.0" height="4.0" rx="1.8" fill="#151515" fill-opacity="0.95" filter="url(#bb)"/>
<line x1="391.2" y1="115.0" x2="500.8" y2="115.0" stroke="#303030" stroke-width="1.6"/>
<rect x="391.2" y="93.9" width="109.6" height="42.0" fill="none" stroke="#303030" stroke-width="1.2"/>
<text x="505.0" y="107.2" font-size="8.8" stroke="#1e1e1e" stroke-width="0.08">pAKT</text>
<text x="505.0" y="127.0" font-size="8.5" stroke="#1e1e1e" stroke-width="0.08">Beta Actin</text>
<rect x="391.9" y="139.8" width="109.3" height="20.5" fill="#979797"/>
<rect x="391.9" y="160.3" width="109.3" height="26.0" fill="#8f8f8f"/>
<rect x="391.9" y="186.3" width="109.3" height="22.3" fill="#ababab"/>
<rect x="401.3" y="148.5" width="12.0" height="2.6" rx="1.2" fill="#151515" fill-opacity="0.45" filter="url(#bb)"/>
<rect x="416.8" y="148.5" width="13.0" height="2.6" rx="1.2" fill="#151515" fill-opacity="0.7" filter="url(#bb)"/>
<rect x="432.3" y="148.5" width="12.0" height="2.6" rx="1.2" fill="#151515" fill-opacity="0.5" filter="url(#bb)"/>
<rect x="448.0" y="148.5" width="10.0" height="2.6" rx="1.2" fill="#151515" fill-opacity="0.45" filter="url(#bb)"/>
<rect x="464.6" y="148.5" width="14.0" height="2.6" rx="1.2" fill="#151515" fill-opacity="0.6" filter="url(#bb)"/>
<rect x="482.0" y="148.5" width="8.0" height="2.6" rx="1.2" fill="#151515" fill-opacity="0.15" filter="url(#bb)"/>
<rect x="401.9" y="168.6" width="14.0" height="4.8" rx="2.2" fill="#151515" fill-opacity="0.95" filter="url(#bb)"/>
<rect x="418.4" y="169.1" width="13.5" height="4.8" rx="2.2" fill="#151515" fill-opacity="0.9" filter="url(#bb)"/>
<rect x="434.6" y="169.1" width="13.5" height="4.8" rx="2.2" fill="#151515" fill-opacity="0.95" filter="url(#bb)"/>
<rect x="449.9" y="169.4" width="14.0" height="4.8" rx="2.2" fill="#151515" fill-opacity="0.95" filter="url(#bb)"/>
<rect x="465.6" y="169.4" width="15.0" height="4.8" rx="2.2" fill="#151515" fill-opacity="1.0" filter="url(#bb)"/>
<rect x="483.7" y="171.9" width="13.0" height="4.8" rx="2.2" fill="#151515" fill-opacity="0.7" filter="url(#bb)"/>
<rect x="400.8" y="192.2" width="14.0" height="3.6" rx="1.6" fill="#151515" fill-opacity="0.9" filter="url(#bb)"/>
<rect x="416.6" y="193.5" width="14.0" height="3.6" rx="1.6" fill="#151515" fill-opacity="0.55" filter="url(#bb)"/>
<rect x="433.4" y="193.8" width="13.0" height="3.6" rx="1.6" fill="#151515" fill-opacity="0.45" filter="url(#bb)"/>
<rect x="450.4" y="194.2" width="13.0" height="3.6" rx="1.6" fill="#151515" fill-opacity="0.75" filter="url(#bb)"/>
<rect x="465.3" y="196.0" width="15.0" height="3.6" rx="1.6" fill="#151515" fill-opacity="0.95" filter="url(#bb)"/>
<rect x="482.2" y="196.2" width="16.0" height="3.6" rx="1.6" fill="#151515" fill-opacity="0.95" filter="url(#bb)"/>
<line x1="391.9" y1="160.3" x2="501.2" y2="160.3" stroke="#303030" stroke-width="1.6"/>
<line x1="391.9" y1="186.3" x2="501.2" y2="186.3" stroke="#303030" stroke-width="1.6"/>
<rect x="391.9" y="139.8" width="109.3" height="68.8" fill="none" stroke="#303030" stroke-width="1.2"/>
<text x="505.0" y="155.6" font-size="8.5" stroke="#1e1e1e" stroke-width="0.08">Total-Akt</text>
<text x="505.0" y="175.4" font-size="8.5" stroke="#1e1e1e" stroke-width="0.08">Total-GSK3B</text>
<text x="506.3" y="199.6" font-size="8.5" stroke="#1e1e1e" stroke-width="0.08">Beta Actin</text>
<text x="412.2" y="229.6" font-size="8.8" textLength="14.1" lengthAdjust="spacingAndGlyphs" stroke="#1e1e1e" stroke-width="0.08">24h</text>
<text x="444.5" y="229.6" font-size="8.8" textLength="13.8" lengthAdjust="spacingAndGlyphs" stroke="#1e1e1e" stroke-width="0.08">48h</text>
<text x="482.3" y="229.6" font-size="8.8" textLength="13.1" lengthAdjust="spacingAndGlyphs" stroke="#1e1e1e" stroke-width="0.08">72h</text>
<line x1="404.9" y1="232.8" x2="431.7" y2="232.8" stroke="#111" stroke-width="2.0"/>
<line x1="437.2" y1="232.8" x2="464.1" y2="232.8" stroke="#111" stroke-width="2.0"/>
<line x1="467.3" y1="232.8" x2="494.4" y2="232.8" stroke="#111" stroke-width="2.0"/>
<text x="412.5" y="263.0" font-size="7.6" font-weight="bold" textLength="26.2" lengthAdjust="spacingAndGlyphs" transform="rotate(-90 412.5 263.0)">Control</text>
<text x="429.2" y="260.9" font-size="8.2" textLength="17.5" lengthAdjust="spacingAndGlyphs" stroke="#1e1e1e" stroke-width="0.08" transform="rotate(-90 429.2 260.9)">WAY</text>
<text x="444.5" y="262.3" font-size="7.6" font-weight="bold" textLength="26.2" lengthAdjust="spacingAndGlyphs" transform="rotate(-90 444.5 262.3)">Control</text>
<text x="460.5" y="259.4" font-size="8.2" textLength="17.5" lengthAdjust="spacingAndGlyphs" stroke="#1e1e1e" stroke-width="0.08" transform="rotate(-90 460.5 259.4)">WAY</text>
<text x="478.7" y="263.0" font-size="7.6" font-weight="bold" textLength="26.2" lengthAdjust="spacingAndGlyphs" transform="rotate(-90 478.7 263.0)">Control</text>
<text x="494.7" y="259.4" font-size="8.2" textLength="16.8" lengthAdjust="spacingAndGlyphs" stroke="#1e1e1e" stroke-width="0.08" transform="rotate(-90 494.7 259.4)">WAY</text>
<rect x="391.2" y="264.8" width="114.3" height="26.2" fill="#a5a5a5"/>
<rect x="391.2" y="291.0" width="114.3" height="25.4" fill="#a0a0a0"/>
<rect x="405.0" y="274.8" width="13.0" height="3.2" rx="1.4" fill="#151515" fill-opacity="1.0" filter="url(#bb)"/>
<rect x="419.2" y="274.8" width="12.0" height="3.2" rx="1.4" fill="#151515" fill-opacity="0.85" filter="url(#bb)"/>
<rect x="432.8" y="274.8" width="12.0" height="3.2" rx="1.4" fill="#151515" fill-opacity="0.85" filter="url(#bb)"/>
<rect x="447.4" y="274.8" width="10.6" height="3.2" rx="1.4" fill="#151515" fill-opacity="0.9" filter="url(#bb)"/>
<rect x="468.6" y="274.8" width="13.3" height="3.2" rx="1.4" fill="#151515" fill-opacity="1.0" filter="url(#bb)"/>
<rect x="484.7" y="274.8" width="12.0" height="3.2" rx="1.4" fill="#151515" fill-opacity="0.12" filter="url(#bb)"/>
<rect x="394.8" y="302.1" width="16.2" height="4.5" rx="2.0" fill="#151515" fill-opacity="0.95" filter="url(#bb)"/>
<rect x="412.0" y="302.1" width="15.6" height="4.5" rx="2.0" fill="#151515" fill-opacity="0.9" filter="url(#bb)"/>
<rect x="428.8" y="302.1" width="15.0" height="4.5" rx="2.0" fill="#151515" fill-opacity="0.95" filter="url(#bb)"/>
<rect x="444.2" y="301.8" width="15.5" height="4.5" rx="2.0" fill="#151515" fill-opacity="0.9" filter="url(#bb)"/>
<rect x="470.0" y="300.1" width="14.8" height="4.5" rx="2.0" fill="#151515" fill-opacity="0.9" filter="url(#bb)"/>
<rect x="486.6" y="298.2" width="13.5" height="4.5" rx="2.0" fill="#151515" fill-opacity="0.95" filter="url(#bb)"/>
<rect x="395.0" y="309.0" width="16.0" height="2.0" rx="0.9" fill="#151515" fill-opacity="0.35" filter="url(#bb)"/>
<rect x="412.3" y="309.0" width="14.0" height="2.0" rx="0.9" fill="#151515" fill-opacity="0.3" filter="url(#bb)"/>
<rect x="428.5" y="308.8" width="15.0" height="2.0" rx="0.9" fill="#151515" fill-opacity="0.35" filter="url(#bb)"/>
<rect x="444.4" y="308.8" width="14.0" height="2.0" rx="0.9" fill="#151515" fill-opacity="0.3" filter="url(#bb)"/>
<rect x="470.1" y="308.0" width="15.0" height="2.0" rx="0.9" fill="#151515" fill-opacity="0.35" filter="url(#bb)"/>
<rect x="485.5" y="307.0" width="15.0" height="2.0" rx="0.9" fill="#151515" fill-opacity="0.25" filter="url(#bb)"/>
<line x1="391.2" y1="291.0" x2="505.5" y2="291.0" stroke="#303030" stroke-width="1.6"/>
<rect x="391.2" y="264.8" width="114.3" height="51.6" fill="none" stroke="#303030" stroke-width="1.2"/>
<text x="508.6" y="281.0" font-size="8.5" stroke="#1e1e1e" stroke-width="0.08">pGSK3-&#946;</text>
<text x="508.6" y="307.8" font-size="8.5" stroke="#1e1e1e" stroke-width="0.08">Cyclophilin A</text>
<text x="402.4" y="376.9" font-size="8.8" textLength="13.8" lengthAdjust="spacingAndGlyphs" stroke="#1e1e1e" stroke-width="0.08">24h</text>
<text x="437.3" y="376.9" font-size="8.8" textLength="13.8" lengthAdjust="spacingAndGlyphs" stroke="#1e1e1e" stroke-width="0.08">48h</text>
<text x="475.2" y="376.9" font-size="8.8" textLength="13.1" lengthAdjust="spacingAndGlyphs" stroke="#1e1e1e" stroke-width="0.08">72h</text>
<line x1="397.0" y1="382.5" x2="423.8" y2="382.5" stroke="#111" stroke-width="2.0"/>
<line x1="430.0" y1="382.5" x2="457.0" y2="382.5" stroke="#111" stroke-width="2.0"/>
<line x1="466.0" y1="382.5" x2="492.6" y2="382.5" stroke="#111" stroke-width="2.0"/>
<text x="407.5" y="410.9" font-size="7.6" font-weight="bold" textLength="26.2" lengthAdjust="spacingAndGlyphs" transform="rotate(-90 407.5 410.9)">Control</text>
<text x="424.9" y="407.9" font-size="8.2" textLength="16.7" lengthAdjust="spacingAndGlyphs" stroke="#1e1e1e" stroke-width="0.08" transform="rotate(-90 424.9 407.9)">WAY</text>
<text x="443.1" y="410.9" font-size="7.6" font-weight="bold" textLength="26.2" lengthAdjust="spacingAndGlyphs" transform="rotate(-90 443.1 410.9)">Control</text>
<text x="460.6" y="407.9" font-size="8.2" textLength="17.4" lengthAdjust="spacingAndGlyphs" stroke="#1e1e1e" stroke-width="0.08" transform="rotate(-90 460.6 407.9)">WAY</text>
<text x="478.8" y="409.4" font-size="7.6" font-weight="bold" textLength="25.5" lengthAdjust="spacingAndGlyphs" transform="rotate(-90 478.8 409.4)">Control</text>
<text x="494.8" y="407.9" font-size="8.2" textLength="18.2" lengthAdjust="spacingAndGlyphs" stroke="#1e1e1e" stroke-width="0.08" transform="rotate(-90 494.8 407.9)">WAY</text>
<rect x="392.8" y="415.2" width="110.8" height="19.7" fill="#a0a0a0"/>
<rect x="392.8" y="434.9" width="110.8" height="14.8" fill="#a3a3a3"/>
<rect x="397.1" y="423.9" width="15.0" height="7.5" rx="3.4" fill="#151515" fill-opacity="0.6" filter="url(#bb2)"/>
<rect x="397.6" y="426.7" width="14.0" height="3.2" rx="1.4" fill="#151515" fill-opacity="0.65" filter="url(#bb)"/>
<rect x="398.1" y="420.7" width="13.0" height="2.2" rx="1.0" fill="#151515" fill-opacity="0.18" filter="url(#bb)"/>
<rect x="415.0" y="423.9" width="15.0" height="7.5" rx="3.4" fill="#151515" fill-opacity="0.6" filter="url(#bb2)"/>
<rect x="415.5" y="426.7" width="14.0" height="3.2" rx="1.4" fill="#151515" fill-opacity="0.65" filter="url(#bb)"/>
<rect x="416.0" y="420.7" width="13.0" height="2.2" rx="1.0" fill="#151515" fill-opacity="0.18" filter="url(#bb)"/>
<rect x="434.3" y="426.2" width="12.0" height="3.5" rx="1.6" fill="#151515" fill-opacity="0.13" filter="url(#bb2)"/>
<rect x="434.3" y="420.8" width="12.0" height="2.5" rx="1.1" fill="#151515" fill-opacity="0.12" filter="url(#bb2)"/>
<rect x="470.0" y="426.6" width="13.0" height="3.5" rx="1.6" fill="#151515" fill-opacity="0.12" filter="url(#bb2)"/>
<rect x="397.8" y="439.2" width="13.0" height="2.0" rx="0.9" fill="#151515" fill-opacity="0.3" filter="url(#bb)"/>
<rect x="415.8" y="439.1" width="12.7" height="2.2" rx="1.0" fill="#151515" fill-opacity="0.55" filter="url(#bb)"/>
<rect x="433.2" y="438.2" width="13.5" height="4.0" rx="1.8" fill="#151515" fill-opacity="1.0" filter="url(#bb)"/>
<rect x="450.7" y="438.7" width="15.0" height="3.0" rx="1.4" fill="#151515" fill-opacity="0.8" filter="url(#bb)"/>
<rect x="469.0" y="438.2" width="15.0" height="4.0" rx="1.8" fill="#151515" fill-opacity="1.0" filter="url(#bb)"/>
<line x1="392.8" y1="434.9" x2="503.6" y2="434.9" stroke="#303030" stroke-width="1.6"/>
<rect x="392.8" y="415.2" width="110.8" height="34.5" fill="none" stroke="#303030" stroke-width="1.2"/>
<text x="507.2" y="430.3" font-size="8.8" stroke="#1e1e1e" stroke-width="0.08">cMYC</text>
<text x="507.0" y="442.7" font-size="8.8" stroke="#1e1e1e" stroke-width="0.08">p53</text>
<rect x="392.0" y="451.0" width="110.3" height="20.1" fill="#a2a2a2"/>
<rect x="393.0" y="459.8" width="108.0" height="4.5" rx="2.0" fill="#151515" fill-opacity="0.75" filter="url(#bb2)"/>
<rect x="395.5" y="459.3" width="17.0" height="5.0" rx="2.2" fill="#151515" fill-opacity="0.85" filter="url(#bb)"/>
<rect x="412.4" y="459.3" width="17.0" height="5.0" rx="2.2" fill="#151515" fill-opacity="0.85" filter="url(#bb)"/>
<rect x="429.0" y="458.8" width="17.0" height="5.0" rx="2.2" fill="#151515" fill-opacity="1.0" filter="url(#bb)"/>
<rect x="446.9" y="459.3" width="17.0" height="5.0" rx="2.2" fill="#151515" fill-opacity="0.9" filter="url(#bb)"/>
<rect x="463.9" y="459.3" width="17.0" height="5.0" rx="2.2" fill="#151515" fill-opacity="0.9" filter="url(#bb)"/>
<rect x="481.5" y="459.0" width="18.0" height="5.0" rx="2.2" fill="#151515" fill-opacity="1.0" filter="url(#bb)"/>
<rect x="397.0" y="453.9" width="14.0" height="2.5" rx="1.1" fill="#151515" fill-opacity="0.15" filter="url(#bb2)"/>
<rect x="413.9" y="453.9" width="14.0" height="2.5" rx="1.1" fill="#151515" fill-opacity="0.25" filter="url(#bb2)"/>
<rect x="430.5" y="453.9" width="14.0" height="2.5" rx="1.1" fill="#151515" fill-opacity="0.5" filter="url(#bb2)"/>
<rect x="448.4" y="453.9" width="14.0" height="2.5" rx="1.1" fill="#151515" fill-opacity="0.25" filter="url(#bb2)"/>
<rect x="465.4" y="453.9" width="14.0" height="2.5" rx="1.1" fill="#151515" fill-opacity="0.3" filter="url(#bb2)"/>
<rect x="483.5" y="453.9" width="14.0" height="2.5" rx="1.1" fill="#151515" fill-opacity="0.3" filter="url(#bb2)"/>
<rect x="397.0" y="465.8" width="14.0" height="2.0" rx="0.9" fill="#151515" fill-opacity="0.15" filter="url(#bb2)"/>
<rect x="413.9" y="465.8" width="14.0" height="2.0" rx="0.9" fill="#151515" fill-opacity="0.2" filter="url(#bb2)"/>
<rect x="430.5" y="465.8" width="14.0" height="2.0" rx="0.9" fill="#151515" fill-opacity="0.25" filter="url(#bb2)"/>
<rect x="448.4" y="465.8" width="14.0" height="2.0" rx="0.9" fill="#151515" fill-opacity="0.2" filter="url(#bb2)"/>
<rect x="465.4" y="465.8" width="14.0" height="2.0" rx="0.9" fill="#151515" fill-opacity="0.2" filter="url(#bb2)"/>
<rect x="483.5" y="465.8" width="14.0" height="2.0" rx="0.9" fill="#151515" fill-opacity="0.15" filter="url(#bb2)"/>
<rect x="392.0" y="451.0" width="110.3" height="20.1" fill="none" stroke="#303030" stroke-width="1.2"/>
<text x="505.7" y="466.0" font-size="8.5" stroke="#1e1e1e" stroke-width="0.08">Cyclophilin A</text>
<text x="664.4" y="49.2" font-size="10.4" text-anchor="middle" font-weight="bold" textLength="139.5" lengthAdjust="spacingAndGlyphs">Protein quantification at 72h</text>
<text x="619.0" y="81.1" font-size="8.8" text-anchor="middle" font-weight="bold" textLength="22.6" lengthAdjust="spacingAndGlyphs">pAKT</text>
<line x1="607.4" y1="83.2" x2="630.6" y2="83.2" stroke="#222" stroke-width="1.0"/>
<line x1="590.7" y1="92.8" x2="590.7" y2="175.1" stroke="#111" stroke-width="1.0"/>
<line x1="588.7" y1="175.1" x2="590.7" y2="175.1" stroke="#111" stroke-width="1.0"/>
<text x="588.4" y="177.3" font-size="6.2" text-anchor="end" fill="#333" style="font-style:italic">0.0</text>
<line x1="588.7" y1="147.7" x2="590.7" y2="147.7" stroke="#111" stroke-width="1.0"/>
<text x="588.4" y="149.9" font-size="6.2" text-anchor="end" fill="#333" style="font-style:italic">0.5</text>
<line x1="588.7" y1="120.2" x2="590.7" y2="120.2" stroke="#111" stroke-width="1.0"/>
<text x="588.4" y="122.4" font-size="6.2" text-anchor="end" fill="#333" style="font-style:italic">1.0</text>
<line x1="588.7" y1="92.8" x2="590.7" y2="92.8" stroke="#111" stroke-width="1.0"/>
<text x="588.4" y="95.0" font-size="6.2" text-anchor="end" fill="#333" style="font-style:italic">1.5</text>
<line x1="588.7" y1="175.1" x2="649.0" y2="175.1" stroke="#111" stroke-width="1.0"/>
<rect x="593.2" y="120.2" width="9.4" height="54.9" fill="#fff" stroke="#111" stroke-width="1.0"/>
<line x1="611.8" y1="130.1" x2="611.8" y2="129.5" stroke="#111" stroke-width="1.0"/>
<line x1="609.1" y1="129.5" x2="614.6" y2="129.5" stroke="#111" stroke-width="1.0"/>
<rect x="606.4" y="130.1" width="10.9" height="45.0" fill="#000" stroke="#111" stroke-width="1.0"/>
<rect x="622.1" y="120.2" width="9.7" height="54.9" fill="#fff" stroke="#111" stroke-width="1.0"/>
<path d="M597.3,117.5 L597.3,113.5 L614.9,113.5 L614.9,117.5" fill="none" stroke="#111" stroke-width="1.3"/>
<text x="605.5" y="114.0" font-size="6.5" text-anchor="middle" font-weight="bold">**</text>
<path d="M627.5,117.5 L627.5,113.5 L644.9,113.5 L644.9,117.5" fill="none" stroke="#111" stroke-width="1.3"/>
<text x="636.2" y="114.0" font-size="6.5" text-anchor="middle" font-weight="bold">***</text>
<text x="643.1" y="170.2" font-size="5.6" text-anchor="middle" font-weight="bold" textLength="11.3" lengthAdjust="spacingAndGlyphs">N.D.</text>
<text x="563.7" y="152.1" font-size="7.3" textLength="64.3" lengthAdjust="spacingAndGlyphs" stroke="#1e1e1e" stroke-width="0.08" transform="rotate(-90 563.7 152.1)">fold change relative</text>
<text x="563.7" y="179.5" font-size="7.3" font-weight="bold" textLength="21" lengthAdjust="spacingAndGlyphs" transform="rotate(-90 563.7 179.5)">protein</text>
<text x="572.3" y="152.7" font-size="7.3" textLength="31.7" lengthAdjust="spacingAndGlyphs" stroke="#1e1e1e" stroke-width="0.08" transform="rotate(-90 572.3 152.7)">Beta actin</text>
<line x1="597.6" y1="175.1" x2="597.6" y2="177.3" stroke="#111" stroke-width="1.0"/>
<text x="599.5" y="177.6" font-size="5.6" text-anchor="end" fill="#444" textLength="13" lengthAdjust="spacingAndGlyphs" transform="rotate(-90 599.5 177.6)">C-48</text>
<line x1="612.0" y1="175.1" x2="612.0" y2="177.3" stroke="#111" stroke-width="1.0"/>
<text x="613.9" y="177.6" font-size="5.6" text-anchor="end" fill="#444" textLength="13" lengthAdjust="spacingAndGlyphs" transform="rotate(-90 613.9 177.6)">T-48</text>
<line x1="627.2" y1="175.1" x2="627.2" y2="177.3" stroke="#111" stroke-width="1.0"/>
<text x="629.1" y="177.6" font-size="5.6" text-anchor="end" fill="#444" textLength="13" lengthAdjust="spacingAndGlyphs" transform="rotate(-90 629.1 177.6)">C-72</text>
<line x1="641.7" y1="175.1" x2="641.7" y2="177.3" stroke="#111" stroke-width="1.0"/>
<text x="643.6" y="177.6" font-size="5.6" text-anchor="end" fill="#444" textLength="13" lengthAdjust="spacingAndGlyphs" transform="rotate(-90 643.6 177.6)">T-72</text>
<text x="722.0" y="81.2" font-size="8.8" text-anchor="middle" font-weight="bold" textLength="42.3" lengthAdjust="spacingAndGlyphs">Total AKT</text>
<line x1="700.6" y1="83.3" x2="743.4" y2="83.3" stroke="#222" stroke-width="1.0"/>
<line x1="694.9" y1="93.9" x2="694.9" y2="175.1" stroke="#111" stroke-width="1.0"/>
<line x1="692.9" y1="175.1" x2="694.9" y2="175.1" stroke="#111" stroke-width="1.0"/>
<text x="692.6" y="177.3" font-size="6.2" text-anchor="end" fill="#333">0.0</text>
<line x1="692.9" y1="154.8" x2="694.9" y2="154.8" stroke="#111" stroke-width="1.0"/>
<text x="692.6" y="157.0" font-size="6.2" text-anchor="end" fill="#333">0.5</text>
<line x1="692.9" y1="134.5" x2="694.9" y2="134.5" stroke="#111" stroke-width="1.0"/>
<text x="692.6" y="136.7" font-size="6.2" text-anchor="end" fill="#333">1.0</text>
<line x1="692.9" y1="114.2" x2="694.9" y2="114.2" stroke="#111" stroke-width="1.0"/>
<text x="692.6" y="116.4" font-size="6.2" text-anchor="end" fill="#333">1.5</text>
<line x1="692.9" y1="93.9" x2="694.9" y2="93.9" stroke="#111" stroke-width="1.0"/>
<text x="692.6" y="96.1" font-size="6.2" text-anchor="end" fill="#333">2.0</text>
<line x1="692.9" y1="175.1" x2="751.0" y2="175.1" stroke="#111" stroke-width="1.0"/>
<rect x="698.5" y="134.5" width="9.2" height="40.6" fill="#fff" stroke="#111" stroke-width="1.0"/>
<line x1="716.8" y1="129.6" x2="716.8" y2="112.2" stroke="#111" stroke-width="1.0"/>
<line x1="714.5" y1="112.2" x2="719.1" y2="112.2" stroke="#111" stroke-width="1.0"/>
<rect x="712.2" y="129.6" width="9.2" height="45.5" fill="#000" stroke="#111" stroke-width="1.0"/>
<rect x="725.5" y="134.5" width="9.2" height="40.6" fill="#fff" stroke="#111" stroke-width="1.0"/>
<line x1="743.1" y1="167.0" x2="743.1" y2="164.5" stroke="#111" stroke-width="1.0"/>
<line x1="740.7" y1="164.5" x2="745.6" y2="164.5" stroke="#111" stroke-width="1.0"/>
<rect x="738.3" y="167.0" width="9.7" height="8.1" fill="#e00" stroke="#111" stroke-width="1.0"/>
<path d="M701.6,109.9 L701.6,106.2 L717.1,106.2 L717.1,109.9" fill="none" stroke="#111" stroke-width="1.3"/>
<text x="708.8" y="103.8" font-size="6.6" text-anchor="middle" style="font-style:italic">ns</text>
<path d="M730.6,131.6 L730.6,128.0 L745.1,128.0 L745.1,131.6" fill="none" stroke="#111" stroke-width="1.3"/>
<text x="737.5" y="128.8" font-size="6.5" text-anchor="middle" font-weight="bold">**</text>
<text x="671.4" y="152.4" font-size="7.3" textLength="64.4" lengthAdjust="spacingAndGlyphs" stroke="#1e1e1e" stroke-width="0.08" transform="rotate(-90 671.4 152.4)">fold change relative</text>
<text x="671.4" y="179.0" font-size="7.3" font-weight="bold" textLength="21" lengthAdjust="spacingAndGlyphs" transform="rotate(-90 671.4 179.0)">protein</text>
<text x="678.3" y="151.4" font-size="7.3" textLength="31.2" lengthAdjust="spacingAndGlyphs" stroke="#1e1e1e" stroke-width="0.08" transform="rotate(-90 678.3 151.4)">Beta actin</text>
<line x1="703.1" y1="175.1" x2="703.1" y2="177.3" stroke="#111" stroke-width="1.0"/>
<text x="705.0" y="177.6" font-size="5.6" text-anchor="end" fill="#444" textLength="13" lengthAdjust="spacingAndGlyphs" transform="rotate(-90 705.0 177.6)">C-48</text>
<line x1="716.8" y1="175.1" x2="716.8" y2="177.3" stroke="#111" stroke-width="1.0"/>
<text x="718.7" y="177.6" font-size="5.6" text-anchor="end" fill="#444" textLength="13" lengthAdjust="spacingAndGlyphs" transform="rotate(-90 718.7 177.6)">T-48</text>
<line x1="730.1" y1="175.1" x2="730.1" y2="177.3" stroke="#111" stroke-width="1.0"/>
<text x="732.0" y="177.6" font-size="5.6" text-anchor="end" fill="#444" textLength="13" lengthAdjust="spacingAndGlyphs" transform="rotate(-90 732.0 177.6)">C-72</text>
<line x1="743.2" y1="175.1" x2="743.2" y2="177.3" stroke="#111" stroke-width="1.0"/>
<text x="745.1" y="177.6" font-size="5.6" text-anchor="end" fill="#444" textLength="13" lengthAdjust="spacingAndGlyphs" transform="rotate(-90 745.1 177.6)">T-72</text>
<text x="620.5" y="220.3" font-size="8.8" text-anchor="middle" font-weight="bold" textLength="39.2" lengthAdjust="spacingAndGlyphs">pGSK3-&#946;</text>
<line x1="600.6" y1="222.4" x2="640.4" y2="222.4" stroke="#222" stroke-width="1.0"/>
<line x1="592.5" y1="238.6" x2="592.5" y2="326.0" stroke="#111" stroke-width="1.0"/>
<line x1="590.5" y1="326.0" x2="592.5" y2="326.0" stroke="#111" stroke-width="1.0"/>
<text x="590.2" y="328.2" font-size="6.2" text-anchor="end" fill="#333">0.0</text>
<line x1="590.5" y1="304.1" x2="592.5" y2="304.1" stroke="#111" stroke-width="1.0"/>
<text x="590.2" y="306.4" font-size="6.2" text-anchor="end" fill="#333">0.5</text>
<line x1="590.5" y1="282.3" x2="592.5" y2="282.3" stroke="#111" stroke-width="1.0"/>
<text x="590.2" y="284.5" font-size="6.2" text-anchor="end" fill="#333">1.0</text>
<line x1="590.5" y1="260.5" x2="592.5" y2="260.5" stroke="#111" stroke-width="1.0"/>
<text x="590.2" y="262.7" font-size="6.2" text-anchor="end" fill="#333">1.5</text>
<line x1="590.5" y1="238.6" x2="592.5" y2="238.6" stroke="#111" stroke-width="1.0"/>
<text x="590.2" y="240.8" font-size="6.2" text-anchor="end" fill="#333">2.0</text>
<line x1="590.5" y1="326.0" x2="654.0" y2="326.0" stroke="#111" stroke-width="1.0"/>
<rect x="595.8" y="282.3" width="9.9" height="43.7" fill="#fff" stroke="#111" stroke-width="1.0"/>
<line x1="616.5" y1="267.9" x2="616.5" y2="250.8" stroke="#111" stroke-width="1.0"/>
<line x1="613.9" y1="250.8" x2="619.2" y2="250.8" stroke="#111" stroke-width="1.0"/>
<rect x="611.3" y="267.9" width="10.5" height="58.1" fill="#000" stroke="#111" stroke-width="1.0"/>
<rect x="626.8" y="282.3" width="10.5" height="43.7" fill="#fff" stroke="#111" stroke-width="1.0"/>
<line x1="646.5" y1="325.1" x2="646.5" y2="324.3" stroke="#111" stroke-width="1.0"/>
<line x1="644.2" y1="324.3" x2="648.8" y2="324.3" stroke="#111" stroke-width="1.0"/>
<rect x="642.0" y="325.1" width="9.0" height="0.9" fill="#333" stroke="#111" stroke-width="1.0"/>
<path d="M600.6,246.3 L600.6,242.3 L617.0,242.3 L617.0,246.3" fill="none" stroke="#111" stroke-width="1.3"/>
<text x="608.6" y="239.5" font-size="6.6" text-anchor="middle">ns</text>
<path d="M632.5,279.6 L632.5,275.8 L649.4,275.8 L649.4,279.6" fill="none" stroke="#111" stroke-width="1.3"/>
<text x="640.4" y="276.5" font-size="6.5" text-anchor="middle" font-weight="bold">**</text>
<text x="565.1" y="299.5" font-size="7.3" textLength="66.0" lengthAdjust="spacingAndGlyphs" stroke="#1e1e1e" stroke-width="0.08" transform="rotate(-90 565.1 299.5)">fold change relative</text>
<text x="565.1" y="325.0" font-size="7.3" font-weight="bold" textLength="21" lengthAdjust="spacingAndGlyphs" transform="rotate(-90 565.1 325.0)">protein</text>
<text x="573.6" y="303.4" font-size="7.3" textLength="44.1" lengthAdjust="spacingAndGlyphs" stroke="#1e1e1e" stroke-width="0.08" transform="rotate(-90 573.6 303.4)">Cyclophilin A</text>
<line x1="600.8" y1="326.0" x2="600.8" y2="328.2" stroke="#111" stroke-width="1.0"/>
<text x="602.7" y="328.5" font-size="5.6" text-anchor="end" fill="#444" textLength="13" lengthAdjust="spacingAndGlyphs" transform="rotate(-90 602.7 328.5)">C-48</text>
<line x1="616.6" y1="326.0" x2="616.6" y2="328.2" stroke="#111" stroke-width="1.0"/>
<text x="618.5" y="328.5" font-size="5.6" text-anchor="end" fill="#444" textLength="13" lengthAdjust="spacingAndGlyphs" transform="rotate(-90 618.5 328.5)">T-48</text>
<line x1="632.1" y1="326.0" x2="632.1" y2="328.2" stroke="#111" stroke-width="1.0"/>
<text x="634.0" y="328.5" font-size="5.6" text-anchor="end" fill="#444" textLength="13" lengthAdjust="spacingAndGlyphs" transform="rotate(-90 634.0 328.5)">C-72</text>
<line x1="646.5" y1="326.0" x2="646.5" y2="328.2" stroke="#111" stroke-width="1.0"/>
<text x="648.4" y="328.5" font-size="5.6" text-anchor="end" fill="#444" textLength="13" lengthAdjust="spacingAndGlyphs" transform="rotate(-90 648.4 328.5)">T-72</text>
<text x="720.2" y="220.3" font-size="8.8" text-anchor="middle" font-weight="bold" textLength="57.8" lengthAdjust="spacingAndGlyphs">Total GSK3-&#946;</text>
<line x1="691.0" y1="222.4" x2="749.4" y2="222.4" stroke="#222" stroke-width="1.0"/>
<line x1="694.2" y1="238.4" x2="694.2" y2="327.6" stroke="#111" stroke-width="1.0"/>
<line x1="692.2" y1="327.6" x2="694.2" y2="327.6" stroke="#111" stroke-width="1.0"/>
<text x="691.9" y="329.8" font-size="6.2" text-anchor="end" fill="#333">0.0</text>
<line x1="692.2" y1="305.3" x2="694.2" y2="305.3" stroke="#111" stroke-width="1.0"/>
<text x="691.9" y="307.5" font-size="6.2" text-anchor="end" fill="#333">0.5</text>
<line x1="692.2" y1="283.0" x2="694.2" y2="283.0" stroke="#111" stroke-width="1.0"/>
<text x="691.9" y="285.2" font-size="6.2" text-anchor="end" fill="#333">1.0</text>
<line x1="692.2" y1="260.7" x2="694.2" y2="260.7" stroke="#111" stroke-width="1.0"/>
<text x="691.9" y="262.9" font-size="6.2" text-anchor="end" fill="#333">1.5</text>
<line x1="692.2" y1="238.4" x2="694.2" y2="238.4" stroke="#111" stroke-width="1.0"/>
<text x="691.9" y="240.6" font-size="6.2" text-anchor="end" fill="#333">2.0</text>
<line x1="692.2" y1="327.6" x2="755.0" y2="327.6" stroke="#111" stroke-width="1.0"/>
<rect x="697.8" y="283.0" width="10.0" height="44.6" fill="#fff" stroke="#111" stroke-width="1.0"/>
<line x1="717.8" y1="277.2" x2="717.8" y2="269.6" stroke="#111" stroke-width="1.0"/>
<line x1="715.4" y1="269.6" x2="720.3" y2="269.6" stroke="#111" stroke-width="1.0"/>
<rect x="712.9" y="277.2" width="9.9" height="50.4" fill="#000" stroke="#111" stroke-width="1.0"/>
<rect x="727.4" y="283.0" width="10.5" height="44.6" fill="#fff" stroke="#111" stroke-width="1.0"/>
<line x1="748.0" y1="323.1" x2="748.0" y2="317.8" stroke="#111" stroke-width="1.0"/>
<line x1="745.5" y1="317.8" x2="750.5" y2="317.8" stroke="#111" stroke-width="1.0"/>
<rect x="743.0" y="323.1" width="10.0" height="4.5" fill="#e00" stroke="#111" stroke-width="1.0"/>
<path d="M700.2,267.2 L700.2,262.8 L718.3,262.8 L718.3,267.2" fill="none" stroke="#111" stroke-width="1.3"/>
<text x="708.7" y="260.3" font-size="6.6" text-anchor="middle">ns</text>
<path d="M733.4,280.0 L733.4,275.8 L750.9,275.8 L750.9,280.0" fill="none" stroke="#111" stroke-width="1.3"/>
<text x="742.4" y="276.5" font-size="6.5" text-anchor="middle" font-weight="bold">***</text>
<text x="669.8" y="298.4" font-size="7.3" textLength="64.4" lengthAdjust="spacingAndGlyphs" stroke="#1e1e1e" stroke-width="0.08" transform="rotate(-90 669.8 298.4)">fold change relative</text>
<text x="669.8" y="322.0" font-size="7.3" font-weight="bold" textLength="21" lengthAdjust="spacingAndGlyphs" transform="rotate(-90 669.8 322.0)">protein</text>
<text x="677.7" y="295.4" font-size="7.3" textLength="30.2" lengthAdjust="spacingAndGlyphs" stroke="#1e1e1e" stroke-width="0.08" transform="rotate(-90 677.7 295.4)">Beta actin</text>
<line x1="702.8" y1="327.6" x2="702.8" y2="329.8" stroke="#111" stroke-width="1.0"/>
<text x="704.7" y="330.1" font-size="5.6" text-anchor="end" fill="#444" textLength="13" lengthAdjust="spacingAndGlyphs" transform="rotate(-90 704.7 330.1)">C-48</text>
<line x1="717.9" y1="327.6" x2="717.9" y2="329.8" stroke="#111" stroke-width="1.0"/>
<text x="719.8" y="330.1" font-size="5.6" text-anchor="end" fill="#444" textLength="13" lengthAdjust="spacingAndGlyphs" transform="rotate(-90 719.8 330.1)">T-48</text>
<line x1="732.7" y1="327.6" x2="732.7" y2="329.8" stroke="#111" stroke-width="1.0"/>
<text x="734.6" y="330.1" font-size="5.6" text-anchor="end" fill="#444" textLength="13" lengthAdjust="spacingAndGlyphs" transform="rotate(-90 734.6 330.1)">C-72</text>
<line x1="748.0" y1="327.6" x2="748.0" y2="329.8" stroke="#111" stroke-width="1.0"/>
<text x="749.9" y="330.1" font-size="5.6" text-anchor="end" fill="#444" textLength="13" lengthAdjust="spacingAndGlyphs" transform="rotate(-90 749.9 330.1)">T-72</text>
<text x="624.9" y="373.1" font-size="8.8" text-anchor="middle" font-weight="bold" textLength="24.9" lengthAdjust="spacingAndGlyphs">cMYC</text>
<line x1="612.1" y1="375.2" x2="637.6" y2="375.2" stroke="#222" stroke-width="1.0"/>
<line x1="593.5" y1="387.6" x2="593.5" y2="472.1" stroke="#111" stroke-width="1.0"/>
<line x1="591.5" y1="472.1" x2="593.5" y2="472.1" stroke="#111" stroke-width="1.0"/>
<text x="591.2" y="474.3" font-size="6.2" text-anchor="end" fill="#333">0.0</text>
<line x1="591.5" y1="444.0" x2="593.5" y2="444.0" stroke="#111" stroke-width="1.0"/>
<text x="591.2" y="446.2" font-size="6.2" text-anchor="end" fill="#333">0.5</text>
<line x1="591.5" y1="415.8" x2="593.5" y2="415.8" stroke="#111" stroke-width="1.0"/>
<text x="591.2" y="418.0" font-size="6.2" text-anchor="end" fill="#333">1.0</text>
<line x1="591.5" y1="387.6" x2="593.5" y2="387.6" stroke="#111" stroke-width="1.0"/>
<text x="591.2" y="389.9" font-size="6.2" text-anchor="end" fill="#333">1.5</text>
<line x1="591.5" y1="472.1" x2="648.0" y2="472.1" stroke="#111" stroke-width="1.0"/>
<rect x="596.0" y="415.8" width="8.0" height="56.3" fill="#fff" stroke="#111" stroke-width="1.0"/>
<line x1="613.8" y1="441.1" x2="613.8" y2="423.7" stroke="#111" stroke-width="1.0"/>
<line x1="611.5" y1="423.7" x2="616.0" y2="423.7" stroke="#111" stroke-width="1.0"/>
<rect x="609.3" y="441.1" width="8.9" height="31.0" fill="#000" stroke="#111" stroke-width="1.0"/>
<rect x="622.3" y="415.8" width="8.5" height="56.3" fill="#fff" stroke="#111" stroke-width="1.0"/>
<line x1="640.8" y1="466.5" x2="640.8" y2="460.3" stroke="#111" stroke-width="1.0"/>
<line x1="638.6" y1="460.3" x2="642.9" y2="460.3" stroke="#111" stroke-width="1.0"/>
<rect x="636.5" y="466.5" width="8.5" height="5.6" fill="#e00" stroke="#111" stroke-width="1.0"/>
<path d="M600.2,412.0 L600.2,408.0 L614.4,408.0 L614.4,412.0" fill="none" stroke="#111" stroke-width="1.3"/>
<text x="606.8" y="409.5" font-size="6.5" text-anchor="middle" font-weight="bold">*</text>
<path d="M626.1,412.0 L626.1,408.0 L639.7,408.0 L639.7,412.0" fill="none" stroke="#111" stroke-width="1.3"/>
<text x="633.4" y="409.5" font-size="6.5" text-anchor="middle" font-weight="bold">**</text>
<text x="565.8" y="449.4" font-size="7.3" textLength="65.4" lengthAdjust="spacingAndGlyphs" stroke="#1e1e1e" stroke-width="0.08" transform="rotate(-90 565.8 449.4)">fold change relative</text>
<text x="565.8" y="472.5" font-size="7.3" font-weight="bold" textLength="21" lengthAdjust="spacingAndGlyphs" transform="rotate(-90 565.8 472.5)">protein</text>
<text x="574.2" y="452.5" font-size="7.3" textLength="44.3" lengthAdjust="spacingAndGlyphs" stroke="#1e1e1e" stroke-width="0.08" transform="rotate(-90 574.2 452.5)">Cyclophilin A</text>
<line x1="600.0" y1="472.1" x2="600.0" y2="474.3" stroke="#111" stroke-width="1.0"/>
<text x="601.9" y="474.6" font-size="5.6" text-anchor="end" fill="#444" textLength="13" lengthAdjust="spacingAndGlyphs" transform="rotate(-90 601.9 474.6)">C-48</text>
<line x1="613.8" y1="472.1" x2="613.8" y2="474.3" stroke="#111" stroke-width="1.0"/>
<text x="615.7" y="474.6" font-size="5.6" text-anchor="end" fill="#444" textLength="13" lengthAdjust="spacingAndGlyphs" transform="rotate(-90 615.7 474.6)">T-48</text>
<line x1="626.6" y1="472.1" x2="626.6" y2="474.3" stroke="#111" stroke-width="1.0"/>
<text x="628.5" y="474.6" font-size="5.6" text-anchor="end" fill="#444" textLength="13" lengthAdjust="spacingAndGlyphs" transform="rotate(-90 628.5 474.6)">C-72</text>
<line x1="640.8" y1="472.1" x2="640.8" y2="474.3" stroke="#111" stroke-width="1.0"/>
<text x="642.7" y="474.6" font-size="5.6" text-anchor="end" fill="#444" textLength="13" lengthAdjust="spacingAndGlyphs" transform="rotate(-90 642.7 474.6)">T-72</text>
<text x="722.5" y="373.1" font-size="8.8" text-anchor="middle" font-weight="bold" textLength="15.9" lengthAdjust="spacingAndGlyphs">p53</text>
<line x1="714.2" y1="375.2" x2="730.8" y2="375.2" stroke="#222" stroke-width="1.0"/>
<line x1="695.1" y1="387.4" x2="695.1" y2="472.6" stroke="#111" stroke-width="1.0"/>
<line x1="693.1" y1="472.6" x2="695.1" y2="472.6" stroke="#111" stroke-width="1.0"/>
<text x="692.8" y="474.8" font-size="6.2" text-anchor="end" fill="#333">0.0</text>
<line x1="693.1" y1="444.2" x2="695.1" y2="444.2" stroke="#111" stroke-width="1.0"/>
<text x="692.8" y="446.4" font-size="6.2" text-anchor="end" fill="#333">0.5</text>
<line x1="693.1" y1="415.8" x2="695.1" y2="415.8" stroke="#111" stroke-width="1.0"/>
<text x="692.8" y="418.0" font-size="6.2" text-anchor="end" fill="#333">1.0</text>
<line x1="693.1" y1="387.4" x2="695.1" y2="387.4" stroke="#111" stroke-width="1.0"/>
<text x="692.8" y="389.6" font-size="6.2" text-anchor="end" fill="#333">1.5</text>
<line x1="693.1" y1="472.6" x2="747.6" y2="472.6" stroke="#111" stroke-width="1.0"/>
<rect x="696.7" y="415.8" width="9.4" height="56.8" fill="#fff" stroke="#111" stroke-width="1.0"/>
<line x1="714.2" y1="452.2" x2="714.2" y2="448.7" stroke="#111" stroke-width="1.0"/>
<line x1="711.8" y1="448.7" x2="716.7" y2="448.7" stroke="#111" stroke-width="1.0"/>
<rect x="709.3" y="452.2" width="9.8" height="20.4" fill="#000" stroke="#111" stroke-width="1.0"/>
<rect x="722.9" y="415.8" width="8.5" height="56.8" fill="#fff" stroke="#111" stroke-width="1.0"/>
<path d="M701.7,411.9 L701.7,407.9 L714.3,407.9 L714.3,411.9" fill="none" stroke="#111" stroke-width="1.0"/>
<text x="708.5" y="409.5" font-size="6.5" text-anchor="middle" font-weight="bold">***</text>
<path d="M728.2,411.9 L728.2,407.9 L740.9,407.9 L740.9,411.9" fill="none" stroke="#111" stroke-width="1.0"/>
<text x="734.5" y="409.5" font-size="6.5" text-anchor="middle" font-weight="bold">***</text>
<text x="740.9" y="466.8" font-size="5.6" text-anchor="middle" font-weight="bold" textLength="10" lengthAdjust="spacingAndGlyphs">N.D.</text>
<text x="669.8" y="452.5" font-size="7.3" textLength="66.4" lengthAdjust="spacingAndGlyphs" stroke="#1e1e1e" stroke-width="0.08" transform="rotate(-90 669.8 452.5)">fold change relative</text>
<text x="669.8" y="475.5" font-size="7.3" font-weight="bold" textLength="21" lengthAdjust="spacingAndGlyphs" transform="rotate(-90 669.8 475.5)">protein</text>
<text x="678.2" y="450.5" font-size="7.3" textLength="45.3" lengthAdjust="spacingAndGlyphs" stroke="#1e1e1e" stroke-width="0.08" transform="rotate(-90 678.2 450.5)">Cyclophilin A</text>
<line x1="700.9" y1="472.6" x2="700.9" y2="474.8" stroke="#111" stroke-width="1.0"/>
<text x="702.8" y="475.1" font-size="5.6" text-anchor="end" fill="#444" textLength="13" lengthAdjust="spacingAndGlyphs" transform="rotate(-90 702.8 475.1)">C-48</text>
<line x1="713.8" y1="472.6" x2="713.8" y2="474.8" stroke="#111" stroke-width="1.0"/>
<text x="715.7" y="475.1" font-size="5.6" text-anchor="end" fill="#444" textLength="13" lengthAdjust="spacingAndGlyphs" transform="rotate(-90 715.7 475.1)">T-48</text>
<line x1="727.3" y1="472.6" x2="727.3" y2="474.8" stroke="#111" stroke-width="1.0"/>
<text x="729.2" y="475.1" font-size="5.6" text-anchor="end" fill="#444" textLength="13" lengthAdjust="spacingAndGlyphs" transform="rotate(-90 729.2 475.1)">C-72</text>
<line x1="739.8" y1="472.6" x2="739.8" y2="474.8" stroke="#111" stroke-width="1.0"/>
<text x="741.7" y="475.1" font-size="5.6" text-anchor="end" fill="#444" textLength="13" lengthAdjust="spacingAndGlyphs" transform="rotate(-90 741.7 475.1)">T-72</text>
<line x1="60.9" y1="372.4" x2="60.9" y2="490.2" stroke="#111" stroke-width="1.2"/>
<line x1="58.4" y1="490.2" x2="60.9" y2="490.2" stroke="#111" stroke-width="1.2"/>
<text x="58.1" y="493.2" font-size="8.3" text-anchor="end" stroke="#1e1e1e" stroke-width="0.08">0.0</text>
<line x1="58.4" y1="470.6" x2="60.9" y2="470.6" stroke="#111" stroke-width="1.2"/>
<text x="58.1" y="473.6" font-size="8.3" text-anchor="end" stroke="#1e1e1e" stroke-width="0.08">0.3</text>
<line x1="58.4" y1="450.9" x2="60.9" y2="450.9" stroke="#111" stroke-width="1.2"/>
<text x="58.1" y="453.9" font-size="8.3" text-anchor="end" stroke="#1e1e1e" stroke-width="0.08">0.6</text>
<line x1="58.4" y1="431.3" x2="60.9" y2="431.3" stroke="#111" stroke-width="1.2"/>
<text x="58.1" y="434.3" font-size="8.3" text-anchor="end" stroke="#1e1e1e" stroke-width="0.08">0.9</text>
<line x1="58.4" y1="411.7" x2="60.9" y2="411.7" stroke="#111" stroke-width="1.2"/>
<text x="58.1" y="414.7" font-size="8.3" text-anchor="end" stroke="#1e1e1e" stroke-width="0.08">1.2</text>
<line x1="58.4" y1="392.0" x2="60.9" y2="392.0" stroke="#111" stroke-width="1.2"/>
<text x="58.1" y="395.0" font-size="8.3" text-anchor="end" stroke="#1e1e1e" stroke-width="0.08">1.5</text>
<line x1="58.4" y1="372.4" x2="60.9" y2="372.4" stroke="#111" stroke-width="1.2"/>
<text x="58.1" y="375.4" font-size="8.3" text-anchor="end" stroke="#1e1e1e" stroke-width="0.08">1.8</text>
<line x1="58.4" y1="490.2" x2="182.0" y2="490.2" stroke="#111" stroke-width="1.2"/>
<rect x="65.8" y="424.8" width="15.2" height="65.4" fill="#fff" stroke="#111" stroke-width="1.2"/>
<line x1="96.8" y1="485.3" x2="96.8" y2="483.0" stroke="#111" stroke-width="1.2"/>
<line x1="92.8" y1="483.0" x2="100.8" y2="483.0" stroke="#111" stroke-width="1.2"/>
<rect x="88.7" y="485.3" width="16.3" height="4.9" fill="#f5b77a" stroke="#111" stroke-width="1.2"/>
<line x1="120.3" y1="474.8" x2="120.3" y2="470.2" stroke="#111" stroke-width="1.2"/>
<line x1="116.3" y1="470.2" x2="124.3" y2="470.2" stroke="#111" stroke-width="1.2"/>
<rect x="112.1" y="474.8" width="16.4" height="15.4" fill="#ee3c3c" stroke="#111" stroke-width="1.2"/>
<line x1="143.9" y1="466.0" x2="143.9" y2="459.1" stroke="#111" stroke-width="1.2"/>
<line x1="139.9" y1="459.1" x2="147.9" y2="459.1" stroke="#111" stroke-width="1.2"/>
<rect x="135.6" y="466.0" width="16.7" height="24.2" fill="#17c217" stroke="#111" stroke-width="1.2"/>
<line x1="167.8" y1="459.1" x2="167.8" y2="456.2" stroke="#111" stroke-width="1.2"/>
<line x1="163.8" y1="456.2" x2="171.8" y2="456.2" stroke="#111" stroke-width="1.2"/>
<rect x="159.5" y="459.1" width="16.7" height="31.1" fill="#a012d6" stroke="#111" stroke-width="1.2"/>
<path d="M71.9,419.8 L71.9,414.3 L96.6,414.3 L96.6,482.5" fill="none" stroke="#111" stroke-width="1.3"/>
<text x="85.3" y="414.1" font-size="8.5" text-anchor="middle" stroke="#1e1e1e" stroke-width="0.08">***</text>
<path d="M71.9,407.0 L71.9,401.5 L121.0,401.5 L121.0,470.5" fill="none" stroke="#111" stroke-width="1.3"/>
<text x="95.6" y="401.1" font-size="8.5" text-anchor="middle" stroke="#1e1e1e" stroke-width="0.08">***</text>
<path d="M71.9,394.8 L71.9,389.3 L144.3,389.3 L144.3,459.0" fill="none" stroke="#111" stroke-width="1.3"/>
<text x="108.0" y="389.0" font-size="8.5" text-anchor="middle" stroke="#1e1e1e" stroke-width="0.08">***</text>
<path d="M71.9,381.1 L71.9,375.6 L167.6,375.6 L167.6,456.0" fill="none" stroke="#111" stroke-width="1.3"/>
<text x="122.0" y="375.1" font-size="8.5" text-anchor="middle" stroke="#1e1e1e" stroke-width="0.08">***</text>
<text x="27.3" y="432.3" font-size="9.6" text-anchor="middle" stroke="#1e1e1e" stroke-width="0.08" transform="rotate(-90 27.3 432.3)">Relative expression</text>
<text x="38.6" y="431.6" font-size="8.2" text-anchor="middle" stroke="#1e1e1e" stroke-width="0.08" transform="rotate(-90 38.6 431.6)">(2<tspan font-size="5.8" dy="-2.8">-&#916;&#916;ct</tspan><tspan dy="2.8">)</tspan></text>
<rect x="197.8" y="349.5" width="13.3" height="5.2" fill="#fff" stroke="#111" stroke-width="1.3"/>
<text x="218.0" y="354.8" font-size="7.6" textLength="26" lengthAdjust="spacingAndGlyphs" stroke="#1e1e1e" stroke-width="0.08">Control</text>
<rect x="197.8" y="362.7" width="13.3" height="5.2" fill="#f5b77a" stroke="#111" stroke-width="1.3"/>
<text x="218.0" y="368.0" font-size="7.6" stroke="#1e1e1e" stroke-width="0.08">cMYC</text>
<rect x="197.8" y="375.9" width="13.3" height="5.2" fill="#ee3c3c" stroke="#111" stroke-width="1.3"/>
<text x="218.0" y="381.2" font-size="7.6" stroke="#1e1e1e" stroke-width="0.08">p53</text>
<rect x="197.8" y="389.8" width="13.3" height="5.2" fill="#17c217" stroke="#111" stroke-width="1.3"/>
<text x="218.0" y="395.1" font-size="7.6" stroke="#1e1e1e" stroke-width="0.08">GSK3-&#946;</text>
<rect x="197.8" y="403.4" width="13.3" height="5.2" fill="#a012d6" stroke="#111" stroke-width="1.3"/>
<text x="218.0" y="408.7" font-size="7.6" stroke="#1e1e1e" stroke-width="0.08">AKT</text>
<line x1="300.7" y1="362.6" x2="300.7" y2="460.5" stroke="#111" stroke-width="1.2"/>
<line x1="298.2" y1="460.5" x2="300.7" y2="460.5" stroke="#111" stroke-width="1.2"/>
<text x="297.9" y="463.2" font-size="7.6" text-anchor="end" stroke="#1e1e1e" stroke-width="0.08">0</text>
<line x1="298.2" y1="440.9" x2="300.7" y2="440.9" stroke="#111" stroke-width="1.2"/>
<text x="297.9" y="443.7" font-size="7.6" text-anchor="end" stroke="#1e1e1e" stroke-width="0.08">2</text>
<line x1="298.2" y1="421.3" x2="300.7" y2="421.3" stroke="#111" stroke-width="1.2"/>
<text x="297.9" y="424.1" font-size="7.6" text-anchor="end" stroke="#1e1e1e" stroke-width="0.08">4</text>
<line x1="298.2" y1="401.8" x2="300.7" y2="401.8" stroke="#111" stroke-width="1.2"/>
<text x="297.9" y="404.5" font-size="7.6" text-anchor="end" stroke="#1e1e1e" stroke-width="0.08">6</text>
<line x1="298.2" y1="382.2" x2="300.7" y2="382.2" stroke="#111" stroke-width="1.2"/>
<text x="297.9" y="384.9" font-size="7.6" text-anchor="end" stroke="#1e1e1e" stroke-width="0.08">8</text>
<line x1="298.2" y1="362.6" x2="300.7" y2="362.6" stroke="#111" stroke-width="1.2"/>
<text x="297.9" y="365.3" font-size="7.6" text-anchor="end" stroke="#1e1e1e" stroke-width="0.08">10</text>
<line x1="298.2" y1="460.5" x2="368.0" y2="460.5" stroke="#111" stroke-width="1.2"/>
<line x1="318.0" y1="460.5" x2="318.0" y2="463.5" stroke="#111" stroke-width="1.2"/>
<line x1="350.7" y1="460.5" x2="350.7" y2="463.5" stroke="#111" stroke-width="1.2"/>
<line x1="318.0" y1="376.3" x2="318.0" y2="369.5" stroke="#111" stroke-width="1.3"/>
<line x1="312.5" y1="369.5" x2="323.5" y2="369.5" stroke="#111" stroke-width="1.3"/>
<rect x="307.5" y="376.3" width="21.0" height="84.2" fill="#fff" stroke="#111" stroke-width="1.3"/>
<line x1="350.7" y1="376.3" x2="350.7" y2="369.5" stroke="#111" stroke-width="1.3"/>
<line x1="345.2" y1="369.5" x2="356.2" y2="369.5" stroke="#111" stroke-width="1.3"/>
<rect x="340.4" y="376.3" width="20.6" height="84.2" fill="#e00" stroke="#111" stroke-width="1.3"/>
<path d="M316.2,364.2 L316.2,358.7 L351.9,358.7 L351.9,364.2" fill="none" stroke="#111" stroke-width="1.3"/>
<text x="332.4" y="355.3" font-size="10" text-anchor="middle" stroke="#1e1e1e" stroke-width="0.08">ns</text>
<text x="287.5" y="412.0" font-size="9.8" text-anchor="middle" stroke="#1e1e1e" stroke-width="0.08" transform="rotate(-90 287.5 412.0)">18s rRNA Ct value</text>
<text x="319.0" y="472.5" font-size="8.8" text-anchor="end" stroke="#1e1e1e" stroke-width="0.08" transform="rotate(-45 319.0 472.5)">Control</text>
<text x="352.5" y="472.5" font-size="8.8" text-anchor="end" stroke="#1e1e1e" stroke-width="0.08" transform="rotate(-45 352.5 472.5)">WAY-3x</text>
</svg></body></html>
